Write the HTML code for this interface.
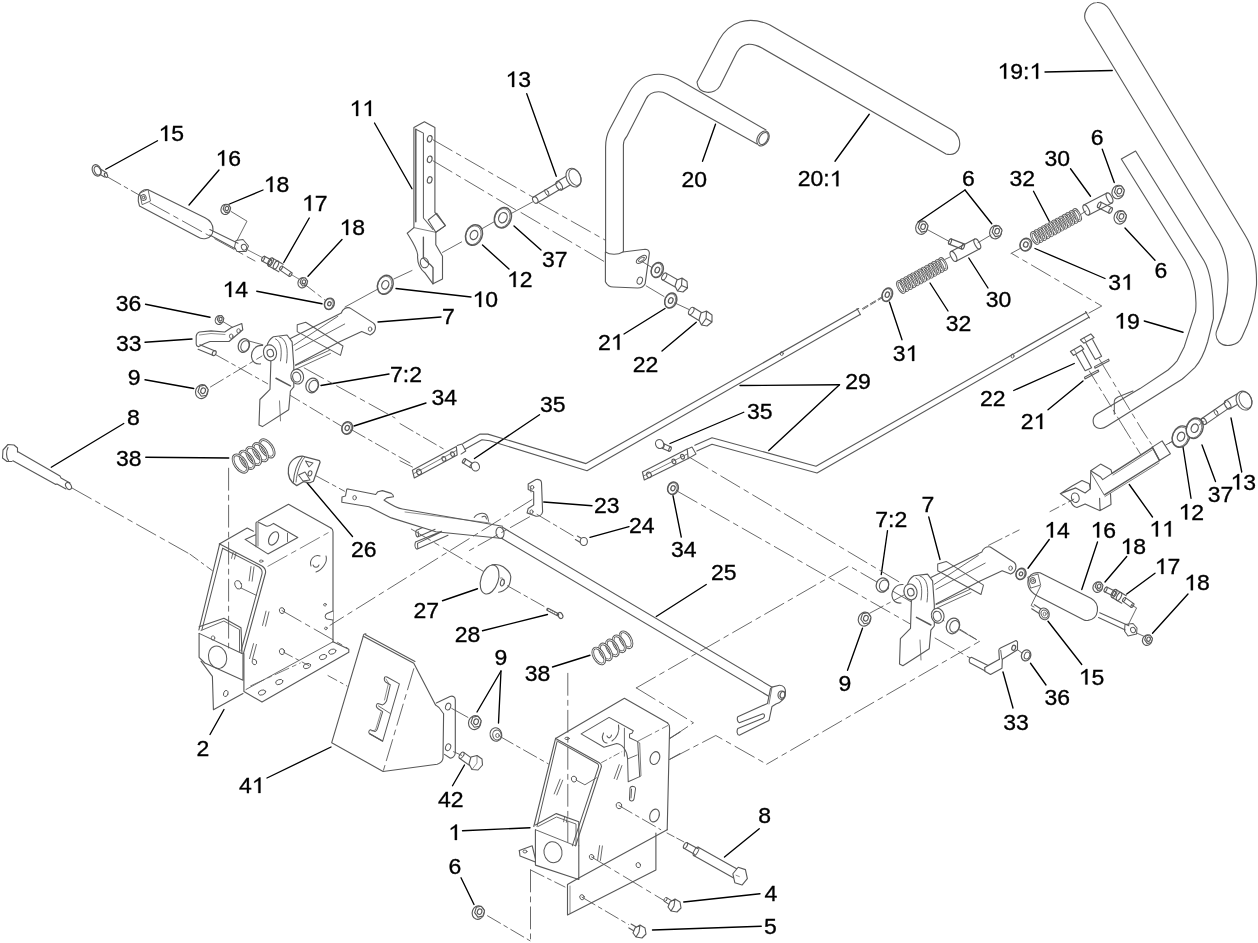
<!DOCTYPE html>
<html><head><meta charset="utf-8"><style>
html,body{margin:0;padding:0;background:#fff;width:1258px;height:943px;overflow:hidden}
svg{position:absolute;left:0;top:0;display:block;will-change:transform}
</style></head><body>
<svg width="1258" height="943" viewBox="0 0 1258 943">
<rect width="1258" height="943" fill="#fff"/>
<g font-family="&quot;Liberation Sans&quot;, sans-serif" font-size="23" fill="#000"><path stroke="#000" stroke-width="0.3" d="M165.05,141.00 L167.19,141.00 L167.19,125.52 L165.74,125.52 L164.70,126.84 L161.00,129.22 L161.00,130.95 L165.05,128.57Z"/><text transform="translate(171.28,141.00) scale(1,0.94)" stroke="#000" stroke-width="0.35">5</text><path stroke="#000" stroke-width="0.3" d="M222.05,165.75 L224.19,165.75 L224.19,150.27 L222.74,150.27 L221.70,151.59 L218.00,153.97 L218.00,155.70 L222.05,153.32Z"/><text transform="translate(228.28,165.75) scale(1,0.94)" stroke="#000" stroke-width="0.35">6</text><path stroke="#000" stroke-width="0.3" d="M270.30,192.00 L272.44,192.00 L272.44,176.52 L270.99,176.52 L269.95,177.84 L266.25,180.22 L266.25,181.95 L270.30,179.57Z"/><text transform="translate(276.53,192.00) scale(1,0.94)" stroke="#000" stroke-width="0.35">8</text><path stroke="#000" stroke-width="0.3" d="M308.55,210.75 L310.69,210.75 L310.69,195.27 L309.24,195.27 L308.20,196.59 L304.50,198.97 L304.50,200.70 L308.55,198.32Z"/><text transform="translate(314.78,210.75) scale(1,0.94)" stroke="#000" stroke-width="0.35">7</text><path stroke="#000" stroke-width="0.3" d="M346.05,235.00 L348.19,235.00 L348.19,219.52 L346.74,219.52 L345.70,220.84 L342.00,223.22 L342.00,224.95 L346.05,222.57Z"/><text transform="translate(352.28,235.00) scale(1,0.94)" stroke="#000" stroke-width="0.35">8</text><path stroke="#000" stroke-width="0.3" d="M229.05,297.00 L231.19,297.00 L231.19,281.52 L229.74,281.52 L228.70,282.84 L225.00,285.22 L225.00,286.95 L229.05,284.57Z"/><text transform="translate(235.28,297.00) scale(1,0.94)" stroke="#000" stroke-width="0.35">4</text><text transform="translate(115.75,311.00) scale(1,0.94)" stroke="#000" stroke-width="0.35">3</text><text transform="translate(128.54,311.00) scale(1,0.94)" stroke="#000" stroke-width="0.35">6</text><text transform="translate(116.00,351.00) scale(1,0.94)" stroke="#000" stroke-width="0.35">3</text><text transform="translate(128.79,351.00) scale(1,0.94)" stroke="#000" stroke-width="0.35">3</text><text transform="translate(127.75,385.25) scale(1,0.94)" stroke="#000" stroke-width="0.35">9</text><text transform="translate(127.00,424.75) scale(1,0.94)" stroke="#000" stroke-width="0.35">8</text><text transform="translate(116.00,465.50) scale(1,0.94)" stroke="#000" stroke-width="0.35">3</text><text transform="translate(128.79,465.50) scale(1,0.94)" stroke="#000" stroke-width="0.35">8</text><text transform="translate(196.50,756.00) scale(1,0.94)" stroke="#000" stroke-width="0.35">2</text><text transform="translate(239.00,793.00) scale(1,0.94)" stroke="#000" stroke-width="0.35">4</text><path stroke="#000" stroke-width="0.3" d="M258.34,793.00 L260.48,793.00 L260.48,777.52 L259.03,777.52 L258.00,778.84 L254.30,781.22 L254.30,782.95 L258.34,780.57Z"/><path stroke="#000" stroke-width="0.3" d="M356.05,116.00 L358.19,116.00 L358.19,100.52 L356.74,100.52 L355.70,101.84 L352.00,104.22 L352.00,105.95 L356.05,103.57Z"/><path stroke="#000" stroke-width="0.3" d="M368.84,116.00 L370.98,116.00 L370.98,100.52 L369.53,100.52 L368.49,101.84 L364.79,104.22 L364.79,105.95 L368.84,103.57Z"/><path stroke="#000" stroke-width="0.3" d="M512.05,87.00 L514.19,87.00 L514.19,71.52 L512.74,71.52 L511.70,72.84 L508.00,75.22 L508.00,76.95 L512.05,74.57Z"/><text transform="translate(518.28,87.00) scale(1,0.94)" stroke="#000" stroke-width="0.35">3</text><text transform="translate(542.00,266.75) scale(1,0.94)" stroke="#000" stroke-width="0.35">3</text><text transform="translate(554.79,266.75) scale(1,0.94)" stroke="#000" stroke-width="0.35">7</text><path stroke="#000" stroke-width="0.3" d="M513.55,287.00 L515.69,287.00 L515.69,271.52 L514.24,271.52 L513.20,272.84 L509.50,275.22 L509.50,276.95 L513.55,274.57Z"/><text transform="translate(519.78,287.00) scale(1,0.94)" stroke="#000" stroke-width="0.35">2</text><path stroke="#000" stroke-width="0.3" d="M479.05,307.00 L481.19,307.00 L481.19,291.52 L479.74,291.52 L478.70,292.84 L475.00,295.22 L475.00,296.95 L479.05,294.57Z"/><text transform="translate(485.28,307.00) scale(1,0.94)" stroke="#000" stroke-width="0.35">0</text><text transform="translate(442.00,324.00) scale(1,0.94)" stroke="#000" stroke-width="0.35">7</text><text transform="translate(390.00,381.50) scale(1,0.94)" stroke="#000" stroke-width="0.35">7</text><text transform="translate(402.79,381.50) scale(1,0.94)" stroke="#000" stroke-width="0.35">:</text><text transform="translate(409.18,381.50) scale(1,0.94)" stroke="#000" stroke-width="0.35">2</text><text transform="translate(431.50,405.00) scale(1,0.94)" stroke="#000" stroke-width="0.35">3</text><text transform="translate(444.29,405.00) scale(1,0.94)" stroke="#000" stroke-width="0.35">4</text><text transform="translate(540.00,412.00) scale(1,0.94)" stroke="#000" stroke-width="0.35">3</text><text transform="translate(552.79,412.00) scale(1,0.94)" stroke="#000" stroke-width="0.35">5</text><text transform="translate(351.00,557.00) scale(1,0.94)" stroke="#000" stroke-width="0.35">2</text><text transform="translate(363.79,557.00) scale(1,0.94)" stroke="#000" stroke-width="0.35">6</text><text transform="translate(594.00,512.75) scale(1,0.94)" stroke="#000" stroke-width="0.35">2</text><text transform="translate(606.79,512.75) scale(1,0.94)" stroke="#000" stroke-width="0.35">3</text><text transform="translate(413.50,617.50) scale(1,0.94)" stroke="#000" stroke-width="0.35">2</text><text transform="translate(426.29,617.50) scale(1,0.94)" stroke="#000" stroke-width="0.35">7</text><text transform="translate(454.75,641.50) scale(1,0.94)" stroke="#000" stroke-width="0.35">2</text><text transform="translate(467.54,641.50) scale(1,0.94)" stroke="#000" stroke-width="0.35">8</text><text transform="translate(494.50,664.50) scale(1,0.94)" stroke="#000" stroke-width="0.35">9</text><text transform="translate(524.75,680.75) scale(1,0.94)" stroke="#000" stroke-width="0.35">3</text><text transform="translate(537.54,680.75) scale(1,0.94)" stroke="#000" stroke-width="0.35">8</text><text transform="translate(438.00,807.00) scale(1,0.94)" stroke="#000" stroke-width="0.35">4</text><text transform="translate(450.79,807.00) scale(1,0.94)" stroke="#000" stroke-width="0.35">2</text><path stroke="#000" stroke-width="0.3" d="M454.80,840.00 L456.94,840.00 L456.94,824.52 L455.49,824.52 L454.45,825.84 L450.75,828.22 L450.75,829.95 L454.80,827.57Z"/><text transform="translate(448.50,874.00) scale(1,0.94)" stroke="#000" stroke-width="0.35">6</text><text transform="translate(681.50,187.00) scale(1,0.94)" stroke="#000" stroke-width="0.35">2</text><text transform="translate(694.29,187.00) scale(1,0.94)" stroke="#000" stroke-width="0.35">0</text><text transform="translate(797.75,186.25) scale(1,0.94)" stroke="#000" stroke-width="0.35">2</text><text transform="translate(810.54,186.25) scale(1,0.94)" stroke="#000" stroke-width="0.35">0</text><text transform="translate(823.33,186.25) scale(1,0.94)" stroke="#000" stroke-width="0.35">:</text><path stroke="#000" stroke-width="0.3" d="M836.27,186.25 L838.41,186.25 L838.41,170.77 L836.97,170.77 L835.93,172.09 L832.23,174.47 L832.23,176.20 L836.27,173.82Z"/><text transform="translate(632.75,372.25) scale(1,0.94)" stroke="#000" stroke-width="0.35">2</text><text transform="translate(645.54,372.25) scale(1,0.94)" stroke="#000" stroke-width="0.35">2</text><text transform="translate(598.00,349.75) scale(1,0.94)" stroke="#000" stroke-width="0.35">2</text><path stroke="#000" stroke-width="0.3" d="M617.34,349.75 L619.48,349.75 L619.48,334.27 L618.03,334.27 L617.00,335.59 L613.29,337.97 L613.29,339.70 L617.34,337.32Z"/><text transform="translate(892.75,361.00) scale(1,0.94)" stroke="#000" stroke-width="0.35">3</text><path stroke="#000" stroke-width="0.3" d="M912.09,361.00 L914.23,361.00 L914.23,345.52 L912.78,345.52 L911.75,346.84 L908.04,349.22 L908.04,350.95 L912.09,348.57Z"/><text transform="translate(845.25,388.50) scale(1,0.94)" stroke="#000" stroke-width="0.35">2</text><text transform="translate(858.04,388.50) scale(1,0.94)" stroke="#000" stroke-width="0.35">9</text><text transform="translate(747.00,418.50) scale(1,0.94)" stroke="#000" stroke-width="0.35">3</text><text transform="translate(759.79,418.50) scale(1,0.94)" stroke="#000" stroke-width="0.35">5</text><text transform="translate(629.00,533.25) scale(1,0.94)" stroke="#000" stroke-width="0.35">2</text><text transform="translate(641.79,533.25) scale(1,0.94)" stroke="#000" stroke-width="0.35">4</text><text transform="translate(671.00,556.50) scale(1,0.94)" stroke="#000" stroke-width="0.35">3</text><text transform="translate(683.79,556.50) scale(1,0.94)" stroke="#000" stroke-width="0.35">4</text><text transform="translate(711.00,580.25) scale(1,0.94)" stroke="#000" stroke-width="0.35">2</text><text transform="translate(723.79,580.25) scale(1,0.94)" stroke="#000" stroke-width="0.35">5</text><text transform="translate(875.25,527.00) scale(1,0.94)" stroke="#000" stroke-width="0.35">7</text><text transform="translate(888.04,527.00) scale(1,0.94)" stroke="#000" stroke-width="0.35">:</text><text transform="translate(894.43,527.00) scale(1,0.94)" stroke="#000" stroke-width="0.35">2</text><text transform="translate(921.50,512.00) scale(1,0.94)" stroke="#000" stroke-width="0.35">7</text><text transform="translate(838.50,690.75) scale(1,0.94)" stroke="#000" stroke-width="0.35">9</text><text transform="translate(758.25,823.25) scale(1,0.94)" stroke="#000" stroke-width="0.35">8</text><text transform="translate(764.50,900.75) scale(1,0.94)" stroke="#000" stroke-width="0.35">4</text><text transform="translate(764.00,934.00) scale(1,0.94)" stroke="#000" stroke-width="0.35">5</text><path stroke="#000" stroke-width="0.3" d="M1004.05,78.75 L1006.19,78.75 L1006.19,63.27 L1004.74,63.27 L1003.70,64.59 L1000.00,66.97 L1000.00,68.70 L1004.05,66.32Z"/><text transform="translate(1010.28,78.75) scale(1,0.94)" stroke="#000" stroke-width="0.35">9</text><text transform="translate(1023.07,78.75) scale(1,0.94)" stroke="#000" stroke-width="0.35">:</text><path stroke="#000" stroke-width="0.3" d="M1036.02,78.75 L1038.16,78.75 L1038.16,63.27 L1036.71,63.27 L1035.67,64.59 L1031.97,66.97 L1031.97,68.70 L1036.02,66.32Z"/><text transform="translate(1090.75,145.00) scale(1,0.94)" stroke="#000" stroke-width="0.35">6</text><text transform="translate(1044.50,166.25) scale(1,0.94)" stroke="#000" stroke-width="0.35">3</text><text transform="translate(1057.29,166.25) scale(1,0.94)" stroke="#000" stroke-width="0.35">0</text><text transform="translate(1009.50,186.25) scale(1,0.94)" stroke="#000" stroke-width="0.35">3</text><text transform="translate(1022.29,186.25) scale(1,0.94)" stroke="#000" stroke-width="0.35">2</text><text transform="translate(962.00,186.25) scale(1,0.94)" stroke="#000" stroke-width="0.35">6</text><text transform="translate(1154.50,278.00) scale(1,0.94)" stroke="#000" stroke-width="0.35">6</text><text transform="translate(1108.25,289.75) scale(1,0.94)" stroke="#000" stroke-width="0.35">3</text><path stroke="#000" stroke-width="0.3" d="M1127.59,289.75 L1129.73,289.75 L1129.73,274.27 L1128.28,274.27 L1127.25,275.59 L1123.55,277.97 L1123.55,279.70 L1127.59,277.32Z"/><text transform="translate(985.75,307.25) scale(1,0.94)" stroke="#000" stroke-width="0.35">3</text><text transform="translate(998.54,307.25) scale(1,0.94)" stroke="#000" stroke-width="0.35">0</text><text transform="translate(945.75,331.00) scale(1,0.94)" stroke="#000" stroke-width="0.35">3</text><text transform="translate(958.54,331.00) scale(1,0.94)" stroke="#000" stroke-width="0.35">2</text><path stroke="#000" stroke-width="0.3" d="M1120.80,328.50 L1122.94,328.50 L1122.94,313.02 L1121.49,313.02 L1120.45,314.34 L1116.75,316.72 L1116.75,318.45 L1120.80,316.07Z"/><text transform="translate(1127.03,328.50) scale(1,0.94)" stroke="#000" stroke-width="0.35">9</text><text transform="translate(980.00,406.00) scale(1,0.94)" stroke="#000" stroke-width="0.35">2</text><text transform="translate(992.79,406.00) scale(1,0.94)" stroke="#000" stroke-width="0.35">2</text><text transform="translate(1020.75,429.00) scale(1,0.94)" stroke="#000" stroke-width="0.35">2</text><path stroke="#000" stroke-width="0.3" d="M1040.09,429.00 L1042.23,429.00 L1042.23,413.52 L1040.78,413.52 L1039.75,414.84 L1036.05,417.22 L1036.05,418.95 L1040.09,416.57Z"/><path stroke="#000" stroke-width="0.3" d="M1237.05,489.50 L1239.19,489.50 L1239.19,474.02 L1237.74,474.02 L1236.70,475.34 L1233.00,477.72 L1233.00,479.45 L1237.05,477.07Z"/><text transform="translate(1243.28,489.50) scale(1,0.94)" stroke="#000" stroke-width="0.35">3</text><text transform="translate(1207.75,502.00) scale(1,0.94)" stroke="#000" stroke-width="0.35">3</text><text transform="translate(1220.54,502.00) scale(1,0.94)" stroke="#000" stroke-width="0.35">7</text><path stroke="#000" stroke-width="0.3" d="M1185.05,519.50 L1187.19,519.50 L1187.19,504.02 L1185.74,504.02 L1184.70,505.34 L1181.00,507.72 L1181.00,509.45 L1185.05,507.07Z"/><text transform="translate(1191.28,519.50) scale(1,0.94)" stroke="#000" stroke-width="0.35">2</text><path stroke="#000" stroke-width="0.3" d="M1155.80,536.50 L1157.94,536.50 L1157.94,521.02 L1156.49,521.02 L1155.45,522.34 L1151.75,524.72 L1151.75,526.45 L1155.80,524.07Z"/><path stroke="#000" stroke-width="0.3" d="M1168.59,536.50 L1170.72,536.50 L1170.72,521.02 L1169.28,521.02 L1168.24,522.34 L1164.54,524.72 L1164.54,526.45 L1168.59,524.07Z"/><path stroke="#000" stroke-width="0.3" d="M1050.80,537.50 L1052.94,537.50 L1052.94,522.02 L1051.49,522.02 L1050.45,523.34 L1046.75,525.72 L1046.75,527.45 L1050.80,525.07Z"/><text transform="translate(1057.03,537.50) scale(1,0.94)" stroke="#000" stroke-width="0.35">4</text><path stroke="#000" stroke-width="0.3" d="M1097.05,537.50 L1099.19,537.50 L1099.19,522.02 L1097.74,522.02 L1096.70,523.34 L1093.00,525.72 L1093.00,527.45 L1097.05,525.07Z"/><text transform="translate(1103.28,537.50) scale(1,0.94)" stroke="#000" stroke-width="0.35">6</text><path stroke="#000" stroke-width="0.3" d="M1127.05,554.00 L1129.19,554.00 L1129.19,538.52 L1127.74,538.52 L1126.70,539.84 L1123.00,542.22 L1123.00,543.95 L1127.05,541.57Z"/><text transform="translate(1133.28,554.00) scale(1,0.94)" stroke="#000" stroke-width="0.35">8</text><path stroke="#000" stroke-width="0.3" d="M1161.30,574.00 L1163.44,574.00 L1163.44,558.52 L1161.99,558.52 L1160.95,559.84 L1157.25,562.22 L1157.25,563.95 L1161.30,561.57Z"/><text transform="translate(1167.53,574.00) scale(1,0.94)" stroke="#000" stroke-width="0.35">7</text><path stroke="#000" stroke-width="0.3" d="M1190.80,590.25 L1192.94,590.25 L1192.94,574.77 L1191.49,574.77 L1190.45,576.09 L1186.75,578.47 L1186.75,580.20 L1190.80,577.82Z"/><text transform="translate(1197.03,590.25) scale(1,0.94)" stroke="#000" stroke-width="0.35">8</text><path stroke="#000" stroke-width="0.3" d="M1085.30,684.50 L1087.44,684.50 L1087.44,669.02 L1085.99,669.02 L1084.95,670.34 L1081.25,672.72 L1081.25,674.45 L1085.30,672.07Z"/><text transform="translate(1091.53,684.50) scale(1,0.94)" stroke="#000" stroke-width="0.35">5</text><text transform="translate(1044.50,704.50) scale(1,0.94)" stroke="#000" stroke-width="0.35">3</text><text transform="translate(1057.29,704.50) scale(1,0.94)" stroke="#000" stroke-width="0.35">6</text><text transform="translate(1003.25,729.50) scale(1,0.94)" stroke="#000" stroke-width="0.35">3</text><text transform="translate(1016.04,729.50) scale(1,0.94)" stroke="#000" stroke-width="0.35">3</text></g><g stroke="#000" stroke-width="1.35" fill="none" stroke-linecap="round"><line x1="157.5" y1="140.75" x2="105.75" y2="169.25"/><line x1="219" y1="170" x2="189" y2="205"/><line x1="263" y1="190" x2="229.5" y2="204"/><line x1="309.25" y1="218" x2="283.75" y2="262.5"/><line x1="342" y1="239.5" x2="308" y2="276.25"/><line x1="256.75" y1="291.25" x2="322" y2="303.75"/><line x1="145.5" y1="304.25" x2="210" y2="317.25"/><line x1="145" y1="342.25" x2="192" y2="339"/><line x1="145" y1="379.75" x2="193.75" y2="388.5"/><line x1="123.75" y1="423.5" x2="51.25" y2="467.25"/><line x1="145.75" y1="457.25" x2="228.75" y2="458"/><line x1="210" y1="734.5" x2="224" y2="709.5"/><line x1="267" y1="778" x2="331" y2="747"/><line x1="374.5" y1="123" x2="412" y2="188.75"/><line x1="526.75" y1="93.75" x2="556.25" y2="176.25"/><line x1="541" y1="250" x2="514" y2="226"/><line x1="482.5" y1="245" x2="509" y2="269"/><line x1="396" y1="288.5" x2="471" y2="297"/><line x1="378" y1="322" x2="441" y2="317"/><line x1="321" y1="385.5" x2="389" y2="374"/><line x1="354" y1="426" x2="426" y2="403"/><line x1="474.5" y1="458.5" x2="539.5" y2="414.75"/><line x1="303" y1="478" x2="352.5" y2="536.5"/><line x1="543.75" y1="502" x2="592" y2="505.75"/><line x1="442.5" y1="600.75" x2="477.5" y2="588.75"/><line x1="482.5" y1="630.75" x2="547.5" y2="614.5"/><line x1="501" y1="671" x2="477" y2="712"/><line x1="501" y1="671" x2="498.5" y2="723"/><line x1="552.5" y1="667" x2="590" y2="655.25"/><line x1="452.5" y1="785.75" x2="464.5" y2="765"/><line x1="462.5" y1="830.75" x2="530" y2="827.75"/><line x1="461" y1="877.75" x2="474" y2="904.5"/><line x1="702.5" y1="161.25" x2="715.5" y2="124.25"/><line x1="835" y1="161.25" x2="869.25" y2="114.25"/><line x1="662" y1="351" x2="696.25" y2="322.25"/><line x1="624" y1="334" x2="665" y2="308.5"/><line x1="902" y1="339.75" x2="889.5" y2="302.25"/><line x1="839.5" y1="384.75" x2="740" y2="385.5"/><line x1="839.5" y1="384.75" x2="768.75" y2="450.5"/><line x1="743.75" y1="412.25" x2="670" y2="443.5"/><line x1="590" y1="537.3" x2="629" y2="526.7"/><line x1="681.25" y1="537" x2="673" y2="495.75"/><line x1="706.25" y1="584.5" x2="656.25" y2="616.5"/><line x1="887.5" y1="530.75" x2="881.25" y2="574.5"/><line x1="928.75" y1="517" x2="940" y2="559.5"/><line x1="847.5" y1="670.25" x2="862.5" y2="628.25"/><line x1="759.25" y1="828.75" x2="724.5" y2="857"/><line x1="760" y1="893.75" x2="683.75" y2="902"/><line x1="761.25" y1="926.25" x2="652.5" y2="930"/><line x1="1045" y1="72" x2="1112.25" y2="70.5"/><line x1="1102.25" y1="149.25" x2="1114.25" y2="182.5"/><line x1="1070.5" y1="168.75" x2="1090.5" y2="196.25"/><line x1="1033.5" y1="191.25" x2="1049.25" y2="221.25"/><line x1="965" y1="190" x2="918" y2="222"/><line x1="965" y1="190" x2="991.75" y2="223.75"/><line x1="1155" y1="260.25" x2="1125" y2="228"/><line x1="1105" y1="278.5" x2="1035" y2="248.5"/><line x1="988" y1="288" x2="968.75" y2="258"/><line x1="948" y1="311" x2="930" y2="283"/><line x1="1144.25" y1="321" x2="1183" y2="332.25"/><line x1="1013.75" y1="390.5" x2="1074.25" y2="363.5"/><line x1="1048" y1="409.75" x2="1083" y2="381"/><line x1="1241.75" y1="472" x2="1231" y2="418"/><line x1="1215.5" y1="481.5" x2="1202" y2="445"/><line x1="1191" y1="498.25" x2="1183" y2="447"/><line x1="1152.5" y1="517" x2="1129.25" y2="484.5"/><line x1="1049.25" y1="539.5" x2="1028" y2="568.25"/><line x1="1097.5" y1="542" x2="1081.75" y2="589.5"/><line x1="1126.75" y1="556.5" x2="1105" y2="582"/><line x1="1155" y1="573.25" x2="1126.75" y2="594"/><line x1="1188" y1="594" x2="1152.5" y2="633.25"/><line x1="1081.75" y1="664.5" x2="1048" y2="621.25"/><line x1="1046" y1="685" x2="1030.5" y2="663.25"/><line x1="1013" y1="708" x2="1003" y2="672"/></g><g stroke-linecap="round" stroke-linejoin="round"><path d="M697,82 L719,40 C729,22 748,15 770,25 L952,130 C964,137 962,158 946,154 L762,48 C753,43 743,42 737,52 L720,86 C715,95 698,95 697,82Z" stroke="#585858" stroke-width="1.12" fill="none" /><path d="M605.6,252 L605.6,147 C605.6,140 607,134 609.8,128.9 L628.9,92.9 C636,80 646,74.3 658.6,74.3 C665,74.3 671,76 677.7,79.1 L766,130" stroke="#585858" stroke-width="1.12" fill="none" /><path d="M623.4,252 L623.4,144.8 C623.4,141 624.5,139 626.8,136.4 L645.9,99.2 C648,95 652,91.8 658.6,91.8 C662,91.8 665,92.8 667.1,93.9 L757,144" stroke="#585858" stroke-width="1.12" fill="none" /><ellipse cx="763" cy="138.5" rx="5.5" ry="8" transform="rotate(30 763 138.5)" stroke="#585858" stroke-width="1.12" fill="none"/><ellipse cx="763.5" cy="138.5" rx="4" ry="6.5" transform="rotate(30 763.5 138.5)" stroke="#585858" stroke-width="1.12" fill="none"/><path d="M1086,21.5 C1082,14 1088,3 1097,2.5 C1103,2 1107,6 1109.5,9.5 L1245,235 C1253,248 1257,262 1256.5,285 C1255,305 1248,325 1242,337 C1238,346 1225,348 1219,342 C1215,337 1216,332 1217,330 C1223,315 1228,300 1228,280 C1228,263 1224,250 1219,241 Z" stroke="#585858" stroke-width="1.12" fill="none" /><path d="M1121.3,159 L1135.6,151 L1204,260.8 C1210,271 1213.5,290 1213.4,318.7 L1207.6,342 C1204,354 1199,363 1194.8,367.6 C1190,372 1186,376 1182,379.3 L1107.3,426 C1100,431 1092,428 1093.3,419 C1094,415 1097,413.5 1100.3,412 L1140,388.6 L1168,370 C1172,366.5 1175,363.5 1177.3,360.6 L1184.3,346.7 L1195.6,311.7 C1197,295 1195,278 1185,261 Z" stroke="#585858" stroke-width="1.12" fill="none" /><path d="M1114.3,414.3 L1114.3,401 C1114.5,399 1116,398 1118,397 L1133,391" stroke="#585858" stroke-width="1.008" fill="none" /><ellipse cx="921.7" cy="227.6" rx="5.95" ry="6.859999999999999" transform="rotate(20 921.7 227.6)" stroke="#585858" stroke-width="1.12" fill="#fff"/><path d="M921.38,232.09 L918.14,227.7 L919.86,222.3 L924.82,221.31 L928.06,225.7 L926.34,231.1Z" stroke="#585858" stroke-width="1.12" fill="#fff"/><ellipse cx="923.1" cy="226.7" rx="2.24" ry="2.8000000000000003" transform="rotate(20 923.1 226.7)" stroke="#585858" stroke-width="1.12" fill="none"/><ellipse cx="995.7" cy="232.1" rx="5.95" ry="6.859999999999999" transform="rotate(20 995.7 232.1)" stroke="#585858" stroke-width="1.12" fill="#fff"/><path d="M995.38,236.59 L992.14,232.2 L993.86,226.8 L998.82,225.81 L1002.06,230.2 L1000.34,235.6Z" stroke="#585858" stroke-width="1.12" fill="#fff"/><ellipse cx="997.1" cy="231.2" rx="2.24" ry="2.8000000000000003" transform="rotate(20 997.1 231.2)" stroke="#585858" stroke-width="1.12" fill="none"/><path d="M956.0573883345877,261.269267389055 L979.8573883345877,248.76926738905502" stroke="#585858" stroke-width="1.12" fill="none"/><path d="M950.9426116654123,251.53073261094497 L974.7426116654123,239.030732610945" stroke="#585858" stroke-width="1.12" fill="none"/><ellipse cx="953.5" cy="256.4" rx="2.475" ry="5.5" transform="rotate(-27.708908094838876 953.5 256.4)" stroke="#585858" stroke-width="1.12" fill="none"/><ellipse cx="977.3" cy="243.9" rx="2.475" ry="5.5" transform="rotate(-27.708908094838876 977.3 243.9)" stroke="#585858" stroke-width="1.12" fill="none"/><path d="M948.9948585779351,244.11336769736857 L961.9948585779351,249.11336769736857" stroke="#585858" stroke-width="1.12" fill="none"/><path d="M951.0051414220649,238.88663230263143 L964.0051414220649,243.88663230263143" stroke="#585858" stroke-width="1.12" fill="none"/><ellipse cx="950" cy="241.5" rx="1.26" ry="2.8" transform="rotate(21.037511025421818 950 241.5)" stroke="#585858" stroke-width="1.12" fill="none"/><ellipse cx="963" cy="246.5" rx="1.26" ry="2.8" transform="rotate(21.037511025421818 963 246.5)" stroke="#585858" stroke-width="1.12" fill="none"/><path d="M928.4,230.2 L949.3,241.5" stroke="#585858" stroke-width="0.896" fill="none"/><path d="M978,242.7 L991,235" stroke="#585858" stroke-width="0.896" fill="none"/><path d="M945,259.4 L950,257" stroke="#585858" stroke-width="0.896" fill="none"/><ellipse cx="943.0" cy="264.0" rx="6.2" ry="2.6" transform="rotate(62 943.0 264.0)" stroke="#585858" stroke-width="2.33" fill="none"/><ellipse cx="943.0" cy="264.0" rx="6.2" ry="2.6" transform="rotate(62 943.0 264.0)" stroke="#fff" stroke-width="0.7200000000000001" fill="none"/><ellipse cx="939.5" cy="265.92" rx="6.2" ry="2.6" transform="rotate(62 939.5 265.92)" stroke="#585858" stroke-width="2.33" fill="none"/><ellipse cx="939.5" cy="265.92" rx="6.2" ry="2.6" transform="rotate(62 939.5 265.92)" stroke="#fff" stroke-width="0.7200000000000001" fill="none"/><ellipse cx="936.0" cy="267.83" rx="6.2" ry="2.6" transform="rotate(62 936.0 267.83)" stroke="#585858" stroke-width="2.33" fill="none"/><ellipse cx="936.0" cy="267.83" rx="6.2" ry="2.6" transform="rotate(62 936.0 267.83)" stroke="#fff" stroke-width="0.7200000000000001" fill="none"/><ellipse cx="932.5" cy="269.75" rx="6.2" ry="2.6" transform="rotate(62 932.5 269.75)" stroke="#585858" stroke-width="2.33" fill="none"/><ellipse cx="932.5" cy="269.75" rx="6.2" ry="2.6" transform="rotate(62 932.5 269.75)" stroke="#fff" stroke-width="0.7200000000000001" fill="none"/><ellipse cx="929.0" cy="271.67" rx="6.2" ry="2.6" transform="rotate(62 929.0 271.67)" stroke="#585858" stroke-width="2.33" fill="none"/><ellipse cx="929.0" cy="271.67" rx="6.2" ry="2.6" transform="rotate(62 929.0 271.67)" stroke="#fff" stroke-width="0.7200000000000001" fill="none"/><ellipse cx="925.5" cy="273.58" rx="6.2" ry="2.6" transform="rotate(62 925.5 273.58)" stroke="#585858" stroke-width="2.33" fill="none"/><ellipse cx="925.5" cy="273.58" rx="6.2" ry="2.6" transform="rotate(62 925.5 273.58)" stroke="#fff" stroke-width="0.7200000000000001" fill="none"/><ellipse cx="922.0" cy="275.5" rx="6.2" ry="2.6" transform="rotate(62 922.0 275.5)" stroke="#585858" stroke-width="2.33" fill="none"/><ellipse cx="922.0" cy="275.5" rx="6.2" ry="2.6" transform="rotate(62 922.0 275.5)" stroke="#fff" stroke-width="0.7200000000000001" fill="none"/><ellipse cx="918.5" cy="277.42" rx="6.2" ry="2.6" transform="rotate(62 918.5 277.42)" stroke="#585858" stroke-width="2.33" fill="none"/><ellipse cx="918.5" cy="277.42" rx="6.2" ry="2.6" transform="rotate(62 918.5 277.42)" stroke="#fff" stroke-width="0.7200000000000001" fill="none"/><ellipse cx="915.0" cy="279.33" rx="6.2" ry="2.6" transform="rotate(62 915.0 279.33)" stroke="#585858" stroke-width="2.33" fill="none"/><ellipse cx="915.0" cy="279.33" rx="6.2" ry="2.6" transform="rotate(62 915.0 279.33)" stroke="#fff" stroke-width="0.7200000000000001" fill="none"/><ellipse cx="911.5" cy="281.25" rx="6.2" ry="2.6" transform="rotate(62 911.5 281.25)" stroke="#585858" stroke-width="2.33" fill="none"/><ellipse cx="911.5" cy="281.25" rx="6.2" ry="2.6" transform="rotate(62 911.5 281.25)" stroke="#fff" stroke-width="0.7200000000000001" fill="none"/><ellipse cx="908.0" cy="283.17" rx="6.2" ry="2.6" transform="rotate(62 908.0 283.17)" stroke="#585858" stroke-width="2.33" fill="none"/><ellipse cx="908.0" cy="283.17" rx="6.2" ry="2.6" transform="rotate(62 908.0 283.17)" stroke="#fff" stroke-width="0.7200000000000001" fill="none"/><ellipse cx="904.5" cy="285.08" rx="6.2" ry="2.6" transform="rotate(62 904.5 285.08)" stroke="#585858" stroke-width="2.33" fill="none"/><ellipse cx="904.5" cy="285.08" rx="6.2" ry="2.6" transform="rotate(62 904.5 285.08)" stroke="#fff" stroke-width="0.7200000000000001" fill="none"/><ellipse cx="901.0" cy="287.0" rx="6.2" ry="2.6" transform="rotate(62 901.0 287.0)" stroke="#585858" stroke-width="2.33" fill="none"/><ellipse cx="901.0" cy="287.0" rx="6.2" ry="2.6" transform="rotate(62 901.0 287.0)" stroke="#fff" stroke-width="0.7200000000000001" fill="none"/><ellipse cx="887.3" cy="294.7" rx="5" ry="7" transform="rotate(22 887.3 294.7)" stroke="#585858" stroke-width="1.456" fill="#fff"/><ellipse cx="886.6999999999999" cy="295.0" rx="4.5" ry="6.44" transform="rotate(22 886.6999999999999 295.0)" stroke="#585858" stroke-width="0.672" fill="none"/><ellipse cx="887.3" cy="294.7" rx="2.0" ry="2.8000000000000003" transform="rotate(22 887.3 294.7)" stroke="#585858" stroke-width="1.232" fill="none"/><path d="M863,309.4 L883,297.3" stroke="#585858" stroke-width="0.896" fill="none" stroke-dasharray="6 3"/><ellipse cx="1025.8" cy="244.6" rx="5.7" ry="6.5" transform="rotate(22 1025.8 244.6)" stroke="#585858" stroke-width="1.456" fill="#fff"/><ellipse cx="1025.2" cy="244.9" rx="5.13" ry="5.98" transform="rotate(22 1025.2 244.9)" stroke="#585858" stroke-width="0.672" fill="none"/><ellipse cx="1025.8" cy="244.6" rx="2.2800000000000002" ry="2.6" transform="rotate(22 1025.8 244.6)" stroke="#585858" stroke-width="1.232" fill="none"/><ellipse cx="1077.0" cy="215.0" rx="6.2" ry="2.6" transform="rotate(62 1077.0 215.0)" stroke="#585858" stroke-width="2.33" fill="none"/><ellipse cx="1077.0" cy="215.0" rx="6.2" ry="2.6" transform="rotate(62 1077.0 215.0)" stroke="#fff" stroke-width="0.7200000000000001" fill="none"/><ellipse cx="1073.5" cy="216.92" rx="6.2" ry="2.6" transform="rotate(62 1073.5 216.92)" stroke="#585858" stroke-width="2.33" fill="none"/><ellipse cx="1073.5" cy="216.92" rx="6.2" ry="2.6" transform="rotate(62 1073.5 216.92)" stroke="#fff" stroke-width="0.7200000000000001" fill="none"/><ellipse cx="1070.0" cy="218.83" rx="6.2" ry="2.6" transform="rotate(62 1070.0 218.83)" stroke="#585858" stroke-width="2.33" fill="none"/><ellipse cx="1070.0" cy="218.83" rx="6.2" ry="2.6" transform="rotate(62 1070.0 218.83)" stroke="#fff" stroke-width="0.7200000000000001" fill="none"/><ellipse cx="1066.5" cy="220.75" rx="6.2" ry="2.6" transform="rotate(62 1066.5 220.75)" stroke="#585858" stroke-width="2.33" fill="none"/><ellipse cx="1066.5" cy="220.75" rx="6.2" ry="2.6" transform="rotate(62 1066.5 220.75)" stroke="#fff" stroke-width="0.7200000000000001" fill="none"/><ellipse cx="1063.0" cy="222.67" rx="6.2" ry="2.6" transform="rotate(62 1063.0 222.67)" stroke="#585858" stroke-width="2.33" fill="none"/><ellipse cx="1063.0" cy="222.67" rx="6.2" ry="2.6" transform="rotate(62 1063.0 222.67)" stroke="#fff" stroke-width="0.7200000000000001" fill="none"/><ellipse cx="1059.5" cy="224.58" rx="6.2" ry="2.6" transform="rotate(62 1059.5 224.58)" stroke="#585858" stroke-width="2.33" fill="none"/><ellipse cx="1059.5" cy="224.58" rx="6.2" ry="2.6" transform="rotate(62 1059.5 224.58)" stroke="#fff" stroke-width="0.7200000000000001" fill="none"/><ellipse cx="1056.0" cy="226.5" rx="6.2" ry="2.6" transform="rotate(62 1056.0 226.5)" stroke="#585858" stroke-width="2.33" fill="none"/><ellipse cx="1056.0" cy="226.5" rx="6.2" ry="2.6" transform="rotate(62 1056.0 226.5)" stroke="#fff" stroke-width="0.7200000000000001" fill="none"/><ellipse cx="1052.5" cy="228.42" rx="6.2" ry="2.6" transform="rotate(62 1052.5 228.42)" stroke="#585858" stroke-width="2.33" fill="none"/><ellipse cx="1052.5" cy="228.42" rx="6.2" ry="2.6" transform="rotate(62 1052.5 228.42)" stroke="#fff" stroke-width="0.7200000000000001" fill="none"/><ellipse cx="1049.0" cy="230.33" rx="6.2" ry="2.6" transform="rotate(62 1049.0 230.33)" stroke="#585858" stroke-width="2.33" fill="none"/><ellipse cx="1049.0" cy="230.33" rx="6.2" ry="2.6" transform="rotate(62 1049.0 230.33)" stroke="#fff" stroke-width="0.7200000000000001" fill="none"/><ellipse cx="1045.5" cy="232.25" rx="6.2" ry="2.6" transform="rotate(62 1045.5 232.25)" stroke="#585858" stroke-width="2.33" fill="none"/><ellipse cx="1045.5" cy="232.25" rx="6.2" ry="2.6" transform="rotate(62 1045.5 232.25)" stroke="#fff" stroke-width="0.7200000000000001" fill="none"/><ellipse cx="1042.0" cy="234.17" rx="6.2" ry="2.6" transform="rotate(62 1042.0 234.17)" stroke="#585858" stroke-width="2.33" fill="none"/><ellipse cx="1042.0" cy="234.17" rx="6.2" ry="2.6" transform="rotate(62 1042.0 234.17)" stroke="#fff" stroke-width="0.7200000000000001" fill="none"/><ellipse cx="1038.5" cy="236.08" rx="6.2" ry="2.6" transform="rotate(62 1038.5 236.08)" stroke="#585858" stroke-width="2.33" fill="none"/><ellipse cx="1038.5" cy="236.08" rx="6.2" ry="2.6" transform="rotate(62 1038.5 236.08)" stroke="#fff" stroke-width="0.7200000000000001" fill="none"/><ellipse cx="1035.0" cy="238.0" rx="6.2" ry="2.6" transform="rotate(62 1035.0 238.0)" stroke="#585858" stroke-width="2.33" fill="none"/><ellipse cx="1035.0" cy="238.0" rx="6.2" ry="2.6" transform="rotate(62 1035.0 238.0)" stroke="#fff" stroke-width="0.7200000000000001" fill="none"/><path d="M1088.8268260538057,214.88519703735773 L1112.0268260538057,202.88519703735773" stroke="#585858" stroke-width="1.12" fill="none"/><path d="M1083.7731739461942,205.11480296264227 L1106.9731739461943,193.11480296264227" stroke="#585858" stroke-width="1.12" fill="none"/><ellipse cx="1086.3" cy="210" rx="2.475" ry="5.5" transform="rotate(-27.34987578006983 1086.3 210)" stroke="#585858" stroke-width="1.12" fill="none"/><ellipse cx="1109.5" cy="198" rx="2.475" ry="5.5" transform="rotate(-27.34987578006983 1109.5 198)" stroke="#585858" stroke-width="1.12" fill="none"/><path d="M1097.8583592135,207.48328157299974 L1109.2583592135,213.18328157299973" stroke="#585858" stroke-width="1.12" fill="none"/><path d="M1100.5416407865,202.11671842700028 L1111.9416407864999,207.81671842700027" stroke="#585858" stroke-width="1.12" fill="none"/><ellipse cx="1099.2" cy="204.8" rx="1.35" ry="3" transform="rotate(26.565051177078217 1099.2 204.8)" stroke="#585858" stroke-width="1.12" fill="none"/><ellipse cx="1110.6" cy="210.5" rx="1.35" ry="3" transform="rotate(26.565051177078217 1110.6 210.5)" stroke="#585858" stroke-width="1.12" fill="none"/><ellipse cx="1118.0" cy="192.0" rx="5.95" ry="6.859999999999999" transform="rotate(20 1118.0 192.0)" stroke="#585858" stroke-width="1.12" fill="#fff"/><path d="M1117.68,196.49 L1114.44,192.1 L1116.16,186.7 L1121.12,185.71 L1124.36,190.1 L1122.64,195.5Z" stroke="#585858" stroke-width="1.12" fill="#fff"/><ellipse cx="1119.3999999999999" cy="191.1" rx="2.24" ry="2.8000000000000003" transform="rotate(20 1119.3999999999999 191.1)" stroke="#585858" stroke-width="1.12" fill="none"/><ellipse cx="1120.1000000000001" cy="217.29999999999998" rx="5.95" ry="6.859999999999999" transform="rotate(20 1120.1000000000001 217.29999999999998)" stroke="#585858" stroke-width="1.12" fill="#fff"/><path d="M1119.78,221.79 L1116.54,217.4 L1118.26,212.0 L1123.22,211.01 L1126.46,215.4 L1124.74,220.8Z" stroke="#585858" stroke-width="1.12" fill="#fff"/><ellipse cx="1121.5" cy="216.39999999999998" rx="2.24" ry="2.8000000000000003" transform="rotate(20 1121.5 216.39999999999998)" stroke="#585858" stroke-width="1.12" fill="none"/><path d="M1080,215 L1086,211" stroke="#585858" stroke-width="0.896" fill="none"/><path d="M463,443.6 L480.1,434.1 L487.8,434.1 L586,463.6 L858.7,308.5" stroke="#585858" stroke-width="1.12" fill="none"/><path d="M464.9,449.3 L482,439.8 L489.7,440.8 L587,470.7 L860.1,314.5" stroke="#585858" stroke-width="1.12" fill="none"/><path d="M857,308.5 L860.5,314.8" stroke="#585858" stroke-width="1.008" fill="none"/><path d="M457.2,445.5 L462,444 L465.8,451 L461,454.1" stroke="#585858" stroke-width="1.008" fill="none"/><path d="M412.4,470.3 L456.3,446.5 L457.2,455 L414.3,478 L412.4,470.3" stroke="#585858" stroke-width="1.12" fill="none"/><path d="M414,473.5 L456.8,450.2" stroke="#585858" stroke-width="0.784" fill="none"/><ellipse cx="419" cy="472" rx="2.3" ry="2.8" transform="rotate(-25 419 472)" stroke="#585858" stroke-width="1.12" fill="none"/><ellipse cx="443.9" cy="458.9" rx="1.8" ry="2.4" transform="rotate(-25 443.9 458.9)" stroke="#585858" stroke-width="1.12" fill="none"/><ellipse cx="452.5" cy="454.1" rx="1.8" ry="2.4" transform="rotate(-25 452.5 454.1)" stroke="#585858" stroke-width="1.12" fill="none"/><path d="M462.6184168206688,462.82917336727434 L470.21841682066884,467.62917336727435" stroke="#585858" stroke-width="1.12" fill="none"/><path d="M465.18158317933114,458.7708266327257 L472.78158317933116,463.5708266327257" stroke="#585858" stroke-width="1.12" fill="none"/><ellipse cx="463.9" cy="460.8" rx="1.08" ry="2.4" transform="rotate(32.27564431457762 463.9 460.8)" stroke="#585858" stroke-width="1.12" fill="none"/><ellipse cx="471.5" cy="465.6" rx="1.08" ry="2.4" transform="rotate(32.27564431457762 471.5 465.6)" stroke="#585858" stroke-width="1.12" fill="none"/><ellipse cx="475.4" cy="466.5" rx="4" ry="4.6" transform="rotate(-20 475.4 466.5)" stroke="#585858" stroke-width="1.12" fill="#fff"/><path d="M400,423.6 L445.8,450.3" stroke="#585858" stroke-width="0.896" fill="none" stroke-dasharray="15 4 4 4"/><path d="M400,460.8 L413.4,467.5" stroke="#585858" stroke-width="0.896" fill="none" stroke-dasharray="14 4 3 4"/><path d="M694.9,445.3 L712,437.7 L816,466.3 L1086.75,312.25" stroke="#585858" stroke-width="1.12" fill="none"/><path d="M696.8,451 L712,444.3 L817,473 L1089,317.25" stroke="#585858" stroke-width="1.12" fill="none"/><path d="M1085.5,311.5 L1089.5,318" stroke="#585858" stroke-width="1.008" fill="none"/><path d="M687.2,449.1 L692,447 L696,454 L688.2,458.6" stroke="#585858" stroke-width="1.008" fill="none"/><path d="M642.4,472 L687.2,449.1 L688.2,458.6 L644.3,480 L642.4,472" stroke="#585858" stroke-width="1.12" fill="none"/><path d="M643.5,476 L687.7,453.8" stroke="#585858" stroke-width="0.784" fill="none"/><ellipse cx="649" cy="474.9" rx="2.3" ry="2.8" transform="rotate(-25 649 474.9)" stroke="#585858" stroke-width="1.12" fill="none"/><ellipse cx="673.9" cy="461.5" rx="1.8" ry="2.4" transform="rotate(-25 673.9 461.5)" stroke="#585858" stroke-width="1.12" fill="none"/><ellipse cx="682.5" cy="456.7" rx="1.8" ry="2.4" transform="rotate(-25 682.5 456.7)" stroke="#585858" stroke-width="1.12" fill="none"/><path d="M662.0281772201471,448.19443853515173 L669.0281772201471,451.29443853515176" stroke="#585858" stroke-width="1.12" fill="none"/><path d="M663.9718227798529,443.80556146484827 L670.9718227798529,446.9055614648483" stroke="#585858" stroke-width="1.12" fill="none"/><ellipse cx="663" cy="446" rx="1.08" ry="2.4" transform="rotate(23.8864999216349 663 446)" stroke="#585858" stroke-width="1.12" fill="none"/><ellipse cx="670" cy="449.1" rx="1.08" ry="2.4" transform="rotate(23.8864999216349 670 449.1)" stroke="#585858" stroke-width="1.12" fill="none"/><ellipse cx="659.6" cy="444" rx="4" ry="4.6" transform="rotate(-20 659.6 444)" stroke="#585858" stroke-width="1.12" fill="#fff"/><ellipse cx="781.75" cy="353.5" rx="1.5" ry="2" transform="rotate(0 781.75 353.5)" stroke="#585858" stroke-width="0.896" fill="none"/><ellipse cx="1012.5" cy="356" rx="1.5" ry="2" transform="rotate(0 1012.5 356)" stroke="#585858" stroke-width="0.896" fill="none"/><path d="M862.5,308.5 L881.25,297.25" stroke="#585858" stroke-width="0.896" fill="none" stroke-dasharray="6 3"/><path d="M1089,313 L1101.75,306 L1011.75,253.5" stroke="#585858" stroke-width="0.896" fill="none" stroke-dasharray="22 5 5 5"/><path d="M1011,253.5 L1021,248" stroke="#585858" stroke-width="0.896" fill="none"/><path d="M97.57401618113332,172.96324106101954 L104.47401618113332,177.06324106101954" stroke="#585858" stroke-width="1.12" fill="none"/><path d="M100.02598381886668,168.83675893898047 L106.92598381886668,172.93675893898046" stroke="#585858" stroke-width="1.12" fill="none"/><ellipse cx="96.7" cy="170.4" rx="4.2" ry="6" transform="rotate(-25 96.7 170.4)" stroke="#585858" stroke-width="1.12" fill="#fff"/><ellipse cx="97.5" cy="170.6" rx="3" ry="4.6" transform="rotate(-25 97.5 170.6)" stroke="#585858" stroke-width="1.12" fill="none"/><ellipse cx="106" cy="175.2" rx="1.4" ry="2.3" transform="rotate(-25 106 175.2)" stroke="#585858" stroke-width="1.12" fill="none"/><path d="M107.7,177.1 L140,195.5" stroke="#585858" stroke-width="0.896" fill="none" stroke-dasharray="15 4 4 4"/><path d="M147.7,189.5 L205,217.7 C216,223 215,237 206,238.5 C203,239 200,238.5 198,237 L139.5,206 C137,200 138,193 142.9,190.5 C144.5,189.5 146,189.3 147.7,189.5Z" stroke="#585858" stroke-width="1.12" fill="none" /><path d="M140,193 L148,189.5 L150.5,201 L142.5,204.5Z" stroke="#585858" stroke-width="0.896" fill="none"/><ellipse cx="143.5" cy="197.5" rx="2.6" ry="3" transform="rotate(-25 143.5 197.5)" stroke="#585858" stroke-width="0.896" fill="none"/><ellipse cx="143.5" cy="197.5" rx="1.2" ry="1.5" transform="rotate(-25 143.5 197.5)" stroke="#585858" stroke-width="0.784" fill="none"/><path d="M150,203 L255,261" stroke="#585858" stroke-width="0.896" fill="none" stroke-dasharray="22 5 5 5"/><path d="M209.8,229.5 L238,243.2" stroke="#585858" stroke-width="1.008" fill="none"/><path d="M209.8,235 L235.3,248.8" stroke="#585858" stroke-width="1.008" fill="none"/><path d="M236,240.5 L243,239.5 L248.5,246 L246,251.5 L237,251.5 L234.5,247Z" stroke="#585858" stroke-width="1.008" fill="none"/><ellipse cx="244" cy="247.2" rx="2.6" ry="3" transform="rotate(-25 244 247.2)" stroke="#585858" stroke-width="0.896" fill="none"/><path d="M231.1,211.5 L247,221.2 L237.4,239.8" stroke="#585858" stroke-width="0.896" fill="none"/><ellipse cx="225.5" cy="209.4" rx="4.505" ry="5.194" transform="rotate(20 225.5 209.4)" stroke="#585858" stroke-width="1.12" fill="#fff"/><path d="M225.59,212.58 L223.14,209.25 L224.45,205.17 L228.21,204.42 L230.66,207.75 L229.35,211.83Z" stroke="#585858" stroke-width="1.12" fill="#fff"/><ellipse cx="226.9" cy="208.5" rx="1.696" ry="2.12" transform="rotate(20 226.9 208.5)" stroke="#585858" stroke-width="1.12" fill="none"/><path d="M261.959561156449,260.88501892233086 L268.959561156449,264.6850189223308" stroke="#585858" stroke-width="1.12" fill="none"/><path d="M264.44043884355096,256.3149810776692 L271.44043884355096,260.11498107766914" stroke="#585858" stroke-width="1.12" fill="none"/><ellipse cx="263.2" cy="258.6" rx="1.1700000000000002" ry="2.6" transform="rotate(28.495638618244694 263.2 258.6)" stroke="#585858" stroke-width="1.12" fill="none"/><ellipse cx="270.2" cy="262.4" rx="1.1700000000000002" ry="2.6" transform="rotate(28.495638618244694 270.2 262.4)" stroke="#585858" stroke-width="1.12" fill="none"/><path d="M268.3169886712299,265.8202698253476 L278.8169886712299,271.8202698253476" stroke="#585858" stroke-width="1.12" fill="none"/><path d="M272.6830113287701,258.1797301746524 L283.1830113287701,264.1797301746524" stroke="#585858" stroke-width="1.12" fill="none"/><ellipse cx="270.5" cy="262" rx="2.2" ry="4.4" transform="rotate(28 270.5 262)" stroke="#585858" stroke-width="1.12" fill="none"/><ellipse cx="276" cy="265" rx="2" ry="4.4" transform="rotate(28 276 265)" stroke="#585858" stroke-width="1.12" fill="none"/><path d="M279.70122699413844,269.8982067008746 L289.20122699413844,276.3982067008746" stroke="#585858" stroke-width="1.12" fill="none"/><path d="M282.29877300586156,266.1017932991254 L291.79877300586156,272.6017932991254" stroke="#585858" stroke-width="1.12" fill="none"/><ellipse cx="281" cy="268" rx="1.035" ry="2.3" transform="rotate(34.38034472384487 281 268)" stroke="#585858" stroke-width="1.12" fill="none"/><ellipse cx="290.5" cy="274.5" rx="1.035" ry="2.3" transform="rotate(34.38034472384487 290.5 274.5)" stroke="#585858" stroke-width="1.12" fill="none"/><path d="M247.3,249.7 L263.2,258" stroke="#585858" stroke-width="0.784" fill="none"/><path d="M291.2,274.5 L298.8,279" stroke="#585858" stroke-width="0.784" fill="none"/><ellipse cx="302.5" cy="282.8" rx="4.505" ry="5.194" transform="rotate(20 302.5 282.8)" stroke="#585858" stroke-width="1.12" fill="#fff"/><path d="M302.59,285.98 L300.14,282.65 L301.45,278.57 L305.21,277.82 L307.66,281.15 L306.35,285.23Z" stroke="#585858" stroke-width="1.12" fill="#fff"/><ellipse cx="303.90000000000003" cy="281.9" rx="1.696" ry="2.12" transform="rotate(20 303.90000000000003 281.9)" stroke="#585858" stroke-width="1.12" fill="none"/><path d="M303,283 L330,304" stroke="#585858" stroke-width="0.896" fill="none" stroke-dasharray="15 4 4 4"/><ellipse cx="329.4" cy="303.8" rx="4.8" ry="5.8" transform="rotate(22 329.4 303.8)" stroke="#585858" stroke-width="1.456" fill="#fff"/><ellipse cx="328.79999999999995" cy="304.1" rx="4.32" ry="5.336" transform="rotate(22 328.79999999999995 304.1)" stroke="#585858" stroke-width="0.672" fill="none"/><ellipse cx="329.4" cy="303.8" rx="1.68" ry="2.03" transform="rotate(22 329.4 303.8)" stroke="#585858" stroke-width="1.232" fill="none"/><path d="M413.9,127.4 L424.4,121.7 L434.9,127.4 L434.9,212.3 L445.4,225.6 L435.8,232.3 L435.8,244.7 L442.5,256.2 L442.5,279 L433,283.8 L425.3,273.3 C419,268 417,262 417.7,255 C417,248 412,241 407.2,233.3 L413.9,227.6 Z" stroke="#585858" stroke-width="1.12" fill="none" /><path d="M415.8,129.3 L423.4,133.1 L423.4,218 L433,229.5" stroke="#585858" stroke-width="1.008" fill="none"/><path d="M415.8,129.3 L415.8,221.8" stroke="#585858" stroke-width="1.456" fill="none"/><path d="M428.2,220 L436.8,213.2 L445.4,225.6 L435.8,232.3Z" stroke="#585858" stroke-width="1.008" fill="none"/><path d="M413.9,227.6 L435.8,232.3" stroke="#585858" stroke-width="0.784" fill="none"/><path d="M423.4,237.1 L423.4,258 C426,262 431,264 433,267.6 L433,283.8" stroke="#585858" stroke-width="1.344" fill="none" /><ellipse cx="424.4" cy="262.8" rx="4" ry="5" transform="rotate(-15 424.4 262.8)" stroke="#585858" stroke-width="1.12" fill="none"/><ellipse cx="429.7" cy="138.8" rx="2.3" ry="3.3" transform="rotate(15 429.7 138.8)" stroke="#585858" stroke-width="1.12" fill="none"/><ellipse cx="429.7" cy="159.3" rx="2.3" ry="3.3" transform="rotate(15 429.7 159.3)" stroke="#585858" stroke-width="1.12" fill="none"/><ellipse cx="429.7" cy="179.9" rx="2.3" ry="3.3" transform="rotate(15 429.7 179.9)" stroke="#585858" stroke-width="1.12" fill="none"/><path d="M433,139.8 L533,197.2" stroke="#585858" stroke-width="0.896" fill="none" stroke-dasharray="22 5 5 5"/><path d="M539,202.9 L605,240" stroke="#585858" stroke-width="0.896" fill="none" stroke-dasharray="22 5 5 5"/><path d="M433,160.8 L516,210" stroke="#585858" stroke-width="0.896" fill="none" stroke-dasharray="22 5 5 5"/><path d="M521,212.5 L605,262" stroke="#585858" stroke-width="0.896" fill="none" stroke-dasharray="22 5 5 5"/><path d="M442.5,252.4 L461.6,241.9" stroke="#585858" stroke-width="0.896" fill="none"/><path d="M480.6,229.5 L495,221.3" stroke="#585858" stroke-width="0.896" fill="none"/><ellipse cx="474" cy="235" rx="8.2" ry="10.5" transform="rotate(22 474 235)" stroke="#585858" stroke-width="1.456" fill="#fff"/><ellipse cx="473.4" cy="235.3" rx="7.38" ry="9.66" transform="rotate(22 473.4 235.3)" stroke="#585858" stroke-width="0.672" fill="none"/><ellipse cx="474" cy="235" rx="3.69" ry="4.7250000000000005" transform="rotate(22 474 235)" stroke="#585858" stroke-width="1.232" fill="none"/><ellipse cx="502.9" cy="217.7" rx="8.2" ry="10.5" transform="rotate(22 502.9 217.7)" stroke="#585858" stroke-width="1.456" fill="#fff"/><ellipse cx="502.29999999999995" cy="218.0" rx="7.38" ry="9.66" transform="rotate(22 502.29999999999995 218.0)" stroke="#585858" stroke-width="0.672" fill="none"/><ellipse cx="502.9" cy="217.7" rx="4.1" ry="5.25" transform="rotate(22 502.9 217.7)" stroke="#585858" stroke-width="1.232" fill="none"/><path d="M510.5,213.9 L532.5,202" stroke="#585858" stroke-width="0.896" fill="none"/><path d="M537.08775821805,203.00897333883077 L560.9877582180501,188.80897333883078" stroke="#585858" stroke-width="1.12" fill="none"/><path d="M533.5122417819499,196.99102666116923 L557.41224178195,182.79102666116924" stroke="#585858" stroke-width="1.12" fill="none"/><path d="M561.6266232008753,189.9414369294937 L574.4266232008753,182.4414369294937" stroke="#585858" stroke-width="1.12" fill="none"/><path d="M556.7733767991248,181.65856307050632 L569.5733767991247,174.15856307050632" stroke="#585858" stroke-width="1.12" fill="none"/><ellipse cx="535.3" cy="200" rx="2.4" ry="3.5" transform="rotate(-30 535.3 200)" stroke="#585858" stroke-width="1.12" fill="none"/><ellipse cx="559.2" cy="185.8" rx="2.6" ry="4.8" transform="rotate(-30 559.2 185.8)" stroke="#585858" stroke-width="1.12" fill="none"/><ellipse cx="546.8" cy="192.4" rx="1.5" ry="3.5" transform="rotate(-30 546.8 192.4)" stroke="#585858" stroke-width="0.896" fill="none"/><ellipse cx="573.5" cy="177.6" rx="7" ry="9.8" transform="rotate(-25 573.5 177.6)" stroke="#585858" stroke-width="1.12" fill="#fff"/><ellipse cx="575" cy="177.2" rx="5.6" ry="8.6" transform="rotate(-25 575 177.2)" stroke="#585858" stroke-width="0.896" fill="none"/><ellipse cx="385.3" cy="284.8" rx="7.6" ry="9.8" transform="rotate(22 385.3 284.8)" stroke="#585858" stroke-width="1.456" fill="#fff"/><ellipse cx="384.7" cy="285.1" rx="6.84" ry="9.016000000000002" transform="rotate(22 384.7 285.1)" stroke="#585858" stroke-width="0.672" fill="none"/><ellipse cx="385.3" cy="284.8" rx="3.42" ry="4.41" transform="rotate(22 385.3 284.8)" stroke="#585858" stroke-width="1.232" fill="none"/><path d="M393.8,279 L412,270.5" stroke="#585858" stroke-width="0.896" fill="none"/><path d="M378,289 L345,307" stroke="#585858" stroke-width="0.896" fill="none"/><ellipse cx="219.2" cy="320.0" rx="3.9099999999999997" ry="4.508" transform="rotate(20 219.2 320.0)" stroke="#585858" stroke-width="1.12" fill="#fff"/><path d="M219.47,322.64 L217.34,319.76 L218.47,316.21 L221.73,315.56 L223.86,318.44 L222.73,321.99Z" stroke="#585858" stroke-width="1.12" fill="#fff"/><ellipse cx="220.6" cy="319.09999999999997" rx="1.472" ry="1.8399999999999999" transform="rotate(20 220.6 319.09999999999997)" stroke="#585858" stroke-width="1.12" fill="none"/><path d="M223.2,321.8 L232.7,327.4" stroke="#585858" stroke-width="0.896" fill="none"/><path d="M198.3,346.8 C196.5,346 196.2,345 196.2,344 L196.2,336.2 C196.5,334 198,332.5 199.4,332 L211,330.9 L224.8,332 L231.2,327.7 L241.8,323.5 L242.8,329.8 L229,341.5 L210,341.5 L204.7,343.6 Z" stroke="#585858" stroke-width="1.12" fill="none" /><path d="M199.5,335 L211,333.5 L225,334.5" stroke="#585858" stroke-width="0.672" fill="none"/><path d="M198.09355874822896,349.22224306885806 L213.29355874822895,355.42224306885805" stroke="#585858" stroke-width="1.12" fill="none"/><path d="M199.90644125177104,344.77775693114194 L215.10644125177103,350.9777569311419" stroke="#585858" stroke-width="1.12" fill="none"/><ellipse cx="214.2" cy="353.2" rx="1.8" ry="2.6" transform="rotate(25 214.2 353.2)" stroke="#585858" stroke-width="1.12" fill="none"/><ellipse cx="231.2" cy="336.2" rx="1.8" ry="2.2" transform="rotate(0 231.2 336.2)" stroke="#585858" stroke-width="0.896" fill="none"/><ellipse cx="238.6" cy="330.9" rx="1.8" ry="2.2" transform="rotate(0 238.6 330.9)" stroke="#585858" stroke-width="0.896" fill="none"/><ellipse cx="243.8" cy="345.6" rx="5.5" ry="7" transform="rotate(20 243.8 345.6)" stroke="#585858" stroke-width="1.232" fill="#fff"/><ellipse cx="245" cy="346" rx="4" ry="5.5" transform="rotate(20 245 346)" stroke="#585858" stroke-width="1.008" fill="none"/><path d="M248.6,340.9 L262.9,344.8" stroke="#585858" stroke-width="0.896" fill="none"/><ellipse cx="201.7" cy="391.6" rx="6.12" ry="7.056" transform="rotate(20 201.7 391.6)" stroke="#585858" stroke-width="1.12" fill="#fff"/><path d="M201.33,396.25 L197.99,391.73 L199.77,386.18 L204.87,385.15 L208.21,389.67 L206.43,395.22Z" stroke="#585858" stroke-width="1.12" fill="#fff"/><ellipse cx="203.1" cy="390.7" rx="2.3040000000000003" ry="2.8800000000000003" transform="rotate(20 203.1 390.7)" stroke="#585858" stroke-width="1.12" fill="none"/><path d="M210.4,387 L262,356" stroke="#585858" stroke-width="0.896" fill="none" stroke-dasharray="15 4 4 4"/><path d="M215.2,354.4 L267.7,383.8" stroke="#585858" stroke-width="0.896" fill="none" stroke-dasharray="15 4 4 4"/><path d="M286.8,393.3 L342.4,426.7" stroke="#585858" stroke-width="0.896" fill="none" stroke-dasharray="15 4 4 4"/><path d="M304.2,367.9 L395,418" stroke="#585858" stroke-width="0.896" fill="none" stroke-dasharray="22 5 5 5"/><ellipse cx="312.2" cy="385.4" rx="6.2" ry="7.5" transform="rotate(20 312.2 385.4)" stroke="#585858" stroke-width="1.232" fill="#fff"/><ellipse cx="313.5" cy="386" rx="4.5" ry="5.8" transform="rotate(20 313.5 386)" stroke="#585858" stroke-width="1.008" fill="none"/><ellipse cx="347.2" cy="428" rx="5.2" ry="6.3" transform="rotate(22 347.2 428)" stroke="#585858" stroke-width="1.456" fill="#fff"/><ellipse cx="346.59999999999997" cy="428.3" rx="4.680000000000001" ry="5.796" transform="rotate(22 346.59999999999997 428.3)" stroke="#585858" stroke-width="0.672" fill="none"/><ellipse cx="347.2" cy="428" rx="2.08" ry="2.52" transform="rotate(22 347.2 428)" stroke="#585858" stroke-width="1.232" fill="none"/><path d="M352,430 L410,463" stroke="#585858" stroke-width="0.896" fill="none" stroke-dasharray="15 4 4 4"/><path d="M219.3,544.1 L247.2,528.1 L253.4,531.2" stroke="#585858" stroke-width="1.12" fill="none"/><path d="M256,546.7 L256,522.9 C256.5,521.5 258,521.5 259,522.5 L265,525.5 C267,527 270,526 273.6,523.4 L297.8,537.4 L267.9,553.9 L245.1,539.4 L255.5,534.8" stroke="#585858" stroke-width="1.12" fill="none" /><path d="M258.6,520.8 L288.5,504.3 L330.9,528.1" stroke="#585858" stroke-width="1.12" fill="none"/><path d="M330.9,528.1 C332.5,529 333,530 333,532 L333,642" stroke="#585858" stroke-width="1.12" fill="none" /><path d="M287.5,533.2 L287.5,541.5" stroke="#585858" stroke-width="0.896" fill="none"/><path d="M258,523 L258,546" stroke="#585858" stroke-width="0.784" fill="none"/><ellipse cx="273.6" cy="538.4" rx="4.3" ry="7.2" transform="rotate(28 273.6 538.4)" stroke="#585858" stroke-width="1.12" fill="none"/><path d="M267.9,566.3 L330.9,531.2" stroke="#585858" stroke-width="0.784" fill="none" stroke-dasharray="22 5 5 5"/><ellipse cx="261.2" cy="561.1" rx="1.8" ry="1.1" transform="rotate(0 261.2 561.1)" stroke="#585858" stroke-width="0.896" fill="none"/><path d="M219.7,543.9 L262,566 C265,568 266,570 265.5,573 L243.4,653.6" stroke="#585858" stroke-width="1.12" fill="none" /><path d="M222.6,548.3 L259,567 C262,569 262.5,571 262,574 L241,651" stroke="#585858" stroke-width="1.008" fill="none" /><path d="M219.7,543.9 L198.9,629.9" stroke="#585858" stroke-width="1.12" fill="none"/><path d="M222.6,548.3 L201.9,629.9" stroke="#585858" stroke-width="1.008" fill="none"/><path d="M199.1,626.8 L223.9,618.2 L241,627.7 L242,653.5" stroke="#585858" stroke-width="1.12" fill="none"/><path d="M201,630.5 L223.9,621 L239.5,629.6 L239.5,651.5" stroke="#585858" stroke-width="0.896" fill="none"/><path d="M199.1,633.4 L199.1,657.3 L204.8,663 L243,680.2 L243,653.5" stroke="#585858" stroke-width="1.12" fill="none"/><path d="M199.1,633.4 L242,653.5" stroke="#585858" stroke-width="1.008" fill="none"/><ellipse cx="217.6" cy="657.2" rx="9" ry="11.3" transform="rotate(-15 217.6 657.2)" stroke="#585858" stroke-width="1.008" fill="none"/><ellipse cx="213" cy="638" rx="1.8" ry="2.2" transform="rotate(0 213 638)" stroke="#585858" stroke-width="0.784" fill="none"/><path d="M201,661.1 L212.4,676.4 L213.4,709.8 L243,693.5" stroke="#585858" stroke-width="1.12" fill="none"/><ellipse cx="225.8" cy="693.5" rx="2.2" ry="3.2" transform="rotate(20 225.8 693.5)" stroke="#585858" stroke-width="0.896" fill="none"/><path d="M243.9,653.5 L243.9,691.6 L262,702.1 L348.8,652.2 L348.8,649.2 L333,641.8" stroke="#585858" stroke-width="1.12" fill="none"/><path d="M246,689.5 L333,641.8" stroke="#585858" stroke-width="0.896" fill="none"/><path d="M250.6,685.9 L300.2,663" stroke="#585858" stroke-width="0.784" fill="none" stroke-dasharray="15 4 4 4"/><ellipse cx="238.2" cy="584.8" rx="3.2" ry="4.4" transform="rotate(-20 238.2 584.8)" stroke="#585858" stroke-width="0.896" fill="none"/><ellipse cx="282" cy="610.6" rx="2.6" ry="3" transform="rotate(-20 282 610.6)" stroke="#585858" stroke-width="0.896" fill="none"/><ellipse cx="282" cy="651.6" rx="2.6" ry="3" transform="rotate(-20 282 651.6)" stroke="#585858" stroke-width="0.896" fill="none"/><ellipse cx="262" cy="692.5" rx="3.8" ry="2.4" transform="rotate(-20 262 692.5)" stroke="#585858" stroke-width="0.896" fill="none"/><ellipse cx="279.3" cy="682" rx="3.8" ry="2.4" transform="rotate(-20 279.3 682)" stroke="#585858" stroke-width="0.896" fill="none"/><ellipse cx="307" cy="666" rx="3.8" ry="2.4" transform="rotate(-20 307 666)" stroke="#585858" stroke-width="0.896" fill="none"/><ellipse cx="323" cy="657" rx="3.8" ry="2.4" transform="rotate(-20 323 657)" stroke="#585858" stroke-width="0.896" fill="none"/><ellipse cx="332.3" cy="651.6" rx="3.8" ry="2.4" transform="rotate(-20 332.3 651.6)" stroke="#585858" stroke-width="0.896" fill="none"/><ellipse cx="325" cy="604.7" rx="1.3" ry="1.3" transform="rotate(-20 325 604.7)" stroke="#585858" stroke-width="0.896" fill="none"/><ellipse cx="325.9" cy="628.4" rx="1.3" ry="1.3" transform="rotate(-20 325.9 628.4)" stroke="#585858" stroke-width="0.896" fill="none"/><ellipse cx="254.4" cy="662" rx="2.2" ry="2.8" transform="rotate(-20 254.4 662)" stroke="#585858" stroke-width="0.896" fill="none"/><path d="M241,588 L256.3,595.3" stroke="#585858" stroke-width="0.896" fill="none"/><path d="M251.01306749161952,566.5024355408445 L249.11306749161952,580.8024355408445" stroke="#585858" stroke-width="0.896" fill="none"/><path d="M253.98693250838048,566.8975644591555 L252.08693250838047,581.1975644591555" stroke="#585858" stroke-width="0.896" fill="none"/><path d="M266.0430060044106,611.1433930780026 L262.5430060044106,625.4433930780026" stroke="#585858" stroke-width="0.896" fill="none"/><path d="M268.9569939955894,611.8566069219974 L265.4569939955894,626.1566069219973" stroke="#585858" stroke-width="0.896" fill="none"/><path d="M253.55064759059812,643.6135060241595 L249.55064759059812,658.6135060241595" stroke="#585858" stroke-width="0.896" fill="none"/><path d="M256.44935240940185,644.3864939758405 L252.44935240940188,659.3864939758405" stroke="#585858" stroke-width="0.896" fill="none"/><path d="M233.04624720335957,552.4304018313626 L231.54624720335957,558.3304018313627" stroke="#585858" stroke-width="0.896" fill="none"/><path d="M235.95375279664043,553.1695981686373 L234.45375279664043,559.0695981686374" stroke="#585858" stroke-width="0.896" fill="none"/><path d="M311,566 C309,560 314,554 320,556 M316,572 C322,570 328,562 326,556 M313,565 C314,568 318,568 319,565" stroke="#585858" stroke-width="1.008" fill="none" /><path d="M333,611 L327,613.5 C324.5,615 324.5,618 327,619 L333,620" stroke="#585858" stroke-width="1.008"  fill="#fff"/><path d="M228.6,468.2 L228.6,648" stroke="#585858" stroke-width="0.896" fill="none" stroke-dasharray="22 5 5 5"/><path d="M190,554.2 L212.3,570.6" stroke="#585858" stroke-width="0.896" fill="none" stroke-dasharray="10 4 3 4"/><path d="M282,610.6 L347.3,648" stroke="#585858" stroke-width="0.896" fill="none" stroke-dasharray="22 5 5 5"/><path d="M283.5,652.2 L308.7,665.5" stroke="#585858" stroke-width="0.896" fill="none" stroke-dasharray="10 4 3 4"/><path d="M328,675.6 L347,686" stroke="#585858" stroke-width="0.896" fill="none" stroke-dasharray="10 4 3 4"/><ellipse cx="267.0" cy="448.4" rx="10" ry="5.4" transform="rotate(55 267.0 448.4)" stroke="#585858" stroke-width="2.621" fill="none"/><ellipse cx="267.0" cy="448.4" rx="10" ry="5.4" transform="rotate(55 267.0 448.4)" stroke="#fff" stroke-width="0.81" fill="none"/><ellipse cx="260.32" cy="452.2" rx="10" ry="5.4" transform="rotate(55 260.32 452.2)" stroke="#585858" stroke-width="2.621" fill="none"/><ellipse cx="260.32" cy="452.2" rx="10" ry="5.4" transform="rotate(55 260.32 452.2)" stroke="#fff" stroke-width="0.81" fill="none"/><ellipse cx="253.65" cy="456.0" rx="10" ry="5.4" transform="rotate(55 253.65 456.0)" stroke="#585858" stroke-width="2.621" fill="none"/><ellipse cx="253.65" cy="456.0" rx="10" ry="5.4" transform="rotate(55 253.65 456.0)" stroke="#fff" stroke-width="0.81" fill="none"/><ellipse cx="246.98" cy="459.8" rx="10" ry="5.4" transform="rotate(55 246.98 459.8)" stroke="#585858" stroke-width="2.621" fill="none"/><ellipse cx="246.98" cy="459.8" rx="10" ry="5.4" transform="rotate(55 246.98 459.8)" stroke="#fff" stroke-width="0.81" fill="none"/><ellipse cx="240.3" cy="463.6" rx="10" ry="5.4" transform="rotate(55 240.3 463.6)" stroke="#585858" stroke-width="2.621" fill="none"/><ellipse cx="240.3" cy="463.6" rx="10" ry="5.4" transform="rotate(55 240.3 463.6)" stroke="#fff" stroke-width="0.81" fill="none"/><path d="M363.3,636.2 L331.7,742.7 L383.1,771.5 L437.2,764.3 C441,763 442.7,761 443,758 L443.6,713.8" stroke="#585858" stroke-width="1.12" fill="none" /><path d="M363.3,636.2 L413.8,663.3 L435.4,704.8" stroke="#585858" stroke-width="1.12" fill="none"/><path d="M365,634.5 L415,661.5" stroke="#585858" stroke-width="1.008" fill="none"/><path d="M363.3,636.2 C363,634 365,633.5 366,634" stroke="#585858" stroke-width="1.008" fill="none" /><path d="M413.8,668.7 L383.1,771.5" stroke="#585858" stroke-width="0.896" fill="none" stroke-dasharray="22 5 5 5"/><path d="M436.3,703 L450,696.5 C453,695.5 455.3,697 455.3,700 L455.3,752.5 C455.3,756.5 452,758.5 449.9,758 L444.5,754.4" stroke="#585858" stroke-width="1.12" fill="none" /><path d="M435.4,704.8 L439,707.5 L443.6,713.8" stroke="#585858" stroke-width="1.008" fill="none"/><ellipse cx="448.1" cy="706.6" rx="2.5" ry="3.5" transform="rotate(20 448.1 706.6)" stroke="#585858" stroke-width="1.008" fill="none"/><ellipse cx="448.1" cy="747.2" rx="2.5" ry="3.5" transform="rotate(20 448.1 747.2)" stroke="#585858" stroke-width="1.008" fill="none"/><path d="M384.6,677.2 C385.5,676.5 386,676.5 387,677 L399.4,683.9 L382.7,741.2 L369.3,733.5 C368.5,732.5 368.5,730.5 370.3,729.7 L375,731.6 C376,731 377,730 377.4,728.8 L382.7,711.6 L378.9,709.2 C377,708 376,706 376.5,704.9 C376.8,704 377.5,703.5 377.9,703.5 L382.7,704.9 C384.5,704 385.8,702.5 386.5,701.1 L390.3,684.8 L385.6,682 C384.5,681 384,679 384.6,677.2 Z" stroke="#585858" stroke-width="1.008" fill="none" /><path d="M378.5,706 L390.3,713.5" stroke="#585858" stroke-width="0.896" fill="none"/><path d="M386,679 L388.5,683 L384.5,700" stroke="#585858" stroke-width="0.672" fill="none"/><path d="M372,731 L375.5,730 L381,712" stroke="#585858" stroke-width="0.672" fill="none"/><path d="M370,734 L382.5,741" stroke="#585858" stroke-width="1.344" fill="none"/><path d="M451.7,708.4 L467.9,717.4" stroke="#585858" stroke-width="0.896" fill="none"/><ellipse cx="474.7" cy="722.6" rx="6.12" ry="7.056" transform="rotate(20 474.7 722.6)" stroke="#585858" stroke-width="1.12" fill="#fff"/><path d="M474.33,727.25 L470.99,722.73 L472.77,717.18 L477.87,716.15 L481.21,720.67 L479.43,726.22Z" stroke="#585858" stroke-width="1.12" fill="#fff"/><ellipse cx="476.1" cy="721.7" rx="2.3040000000000003" ry="2.8800000000000003" transform="rotate(20 476.1 721.7)" stroke="#585858" stroke-width="1.12" fill="none"/><ellipse cx="495.9" cy="734.5" rx="5.8" ry="6.8" transform="rotate(-15 495.9 734.5)" stroke="#585858" stroke-width="1.12" fill="#fff"/><ellipse cx="497" cy="735" rx="4.2" ry="5" transform="rotate(-15 497 735)" stroke="#585858" stroke-width="1.008" fill="none"/><ellipse cx="497.5" cy="735.5" rx="1.8" ry="2" transform="rotate(0 497.5 735.5)" stroke="#585858" stroke-width="0.896" fill="none"/><path d="M453.5,751.7 L461.6,755.3" stroke="#585858" stroke-width="0.896" fill="none"/><path d="M459.48258188836985,758.2114499034914 L469.3825818883698,765.4114499034914" stroke="#585858" stroke-width="1.12" fill="none"/><path d="M463.7174181116302,752.3885500965085 L473.6174181116302,759.5885500965086" stroke="#585858" stroke-width="1.12" fill="none"/><ellipse cx="461.6" cy="755.3" rx="1.8" ry="3.6" transform="rotate(35 461.6 755.3)" stroke="#585858" stroke-width="1.008" fill="none"/><path d="M471,757 L477,755.5 L482,759 L482.5,765 L478,770 L472,769.5 L469,764 Z" stroke="#585858" stroke-width="1.12"  fill="#fff"/><path d="M477,755.5 L477,763 L472,769.5" stroke="#585858" stroke-width="0.672" fill="none"/><path d="M17.5,451.5 L60,476 L61,478 L70,483 M12.9,460.8 L55.8,484.4 L57,484 L66,489" stroke="#585858" stroke-width="1.12" fill="none" /><path d="M3,450 L8,444.5 L14,445 L17.5,448 L17.5,452 M3,450 L2.5,458 L7,461.5 L12,461.5 M8,447.5 C6,451 6,458 8.5,460.5" stroke="#585858" stroke-width="1.12" fill="none" /><ellipse cx="68.5" cy="486" rx="2.6" ry="3.8" transform="rotate(-30 68.5 486)" stroke="#585858" stroke-width="1.12" fill="none"/><path d="M72,488 L190,554.2" stroke="#585858" stroke-width="0.896" fill="none" stroke-dasharray="22 5 5 5"/><path d="M302.3,456.1 C296,456 289.5,461 288.5,468 C287.5,475 290,482 296.7,485.6 L303.4,481.7 L310,482.8 L313.4,481.2 L320.1,462.3 L319.5,460.6 Z" stroke="#585858" stroke-width="1.232"  fill="#fff"/><path d="M302.3,456.7 C298,462 294,472 293.4,482.3" stroke="#585858" stroke-width="1.008" fill="none" /><path d="M304.5,457.5 C300,463 297,472 296,482" stroke="#585858" stroke-width="0.896" fill="none" /><path d="M305.5,461 L313,463 L309,467 Z" stroke="#585858" stroke-width="1.008" fill="none" /><path d="M298.5,475 L305,472 L310,480 L303,481 Z" stroke="#585858" stroke-width="1.008" fill="none" /><ellipse cx="310" cy="473.4" rx="1.8" ry="2.6" transform="rotate(20 310 473.4)" stroke="#585858" stroke-width="1.008" fill="none"/><path d="M315.6,475.6 L344.5,491.2" stroke="#585858" stroke-width="0.896" fill="none" stroke-dasharray="15 4 4 4"/><path d="M347.9,489 L375.7,494.5 L377.9,491.7 L382.4,490.6 L391.3,493.4 C393,494.5 393.5,496 393.5,496.8 L386.8,497.9 L384,500.1 C390,504 396,508 402.4,509 L502.6,526.2" stroke="#585858" stroke-width="1.12" fill="none" /><path d="M347.9,489 L346.8,489 L345.5,496 L342,497 L341.8,502.3 L369,506.8 L391.3,517.9 L435.8,531.8 L502.6,538.5" stroke="#585858" stroke-width="1.12" fill="none" /><ellipse cx="354.6" cy="497.7" rx="1.8" ry="2.2" transform="rotate(0 354.6 497.7)" stroke="#585858" stroke-width="0.896" fill="none"/><path d="M405,512 L490,523" stroke="#585858" stroke-width="0.672" fill="none"/><path d="M474.2,517.5 C476,514.5 479,513.6 482,513.3 C486,513 488,515 488.5,521.2 M482,517 C484,515.5 486,516 486.5,519" stroke="#585858" stroke-width="1.008" fill="none" /><path d="M416.1,530.5 L422.6,527.5 M416.1,530.5 C415.5,533 416,536 417.5,537 L435.1,529.2 M418.2,531.5 L418.5,536" stroke="#585858" stroke-width="1.008" fill="none" /><path d="M415.5,542 L441.6,531.2 M417.5,543.4 L440.6,532.2 M415.5,542 C414.5,545 415,548 416.8,549.2 L448,535.3 M417.5,543.4 L417.8,548.5" stroke="#585858" stroke-width="1.008" fill="none" /><ellipse cx="500" cy="532.8" rx="4" ry="5.6" transform="rotate(-10 500 532.8)" stroke="#585858" stroke-width="1.12" fill="#fff"/><path d="M502.5,527.3 L773.75,688.25" stroke="#585858" stroke-width="1.12" fill="none"/><path d="M501.5,538.3 L770,697" stroke="#585858" stroke-width="1.12" fill="none"/><path d="M411.3,529.1 L482.8,571" stroke="#585858" stroke-width="0.896" fill="none" stroke-dasharray="22 5 5 5"/><path d="M528.2,484 L536,479.5 C539,479 541.5,480 541.5,482.8 L542.6,511.8 C542,515 539,516.5 536,516.2 L527.1,512.9 L528.2,508.4 L533.7,505.1 L533.7,491.7 L528.2,489.5 Z" stroke="#585858" stroke-width="1.12" fill="none" /><path d="M530,486 L531,492" stroke="#585858" stroke-width="0.784" fill="none"/><ellipse cx="532.2" cy="487.3" rx="1.6" ry="1.9" transform="rotate(0 532.2 487.3)" stroke="#585858" stroke-width="0.896" fill="none"/><ellipse cx="531.5" cy="511.8" rx="1.6" ry="1.9" transform="rotate(0 531.5 511.8)" stroke="#585858" stroke-width="0.896" fill="none"/><path d="M537,514.4 L576.4,537.8" stroke="#585858" stroke-width="0.896" fill="none" stroke-dasharray="15 4 4 4"/><path d="M575.3875988624716,539.5248315676411 L579.9875988624716,542.2248315676411" stroke="#585858" stroke-width="1.12" fill="none"/><path d="M577.4124011375284,536.0751684323589 L582.0124011375284,538.7751684323589" stroke="#585858" stroke-width="1.12" fill="none"/><ellipse cx="583.8" cy="541.5" rx="3.6" ry="4" transform="rotate(0 583.8 541.5)" stroke="#585858" stroke-width="1.12" fill="#fff"/><path d="M532,499.6 L330,625.3" stroke="#585858" stroke-width="0.896" fill="none" stroke-dasharray="22 5 5 5"/><path d="M529.6,516.8 L468,551.3" stroke="#585858" stroke-width="0.896" fill="none" stroke-dasharray="22 5 5 5"/><ellipse cx="489.6" cy="579.5" rx="8.6" ry="15" transform="rotate(18 489.6 579.5)" stroke="#585858" stroke-width="1.12" fill="#fff"/><path d="M492,564.8 C497,563.5 503,566 506,569 C509,571.5 511,574 510.8,577 C510.5,581 509.5,585 508.1,586.9 C505,590 501,592 498.6,592.2" stroke="#585858" stroke-width="1.12" fill="none" /><ellipse cx="502.3" cy="582.7" rx="1.8" ry="3.4" transform="rotate(15 502.3 582.7)" stroke="#585858" stroke-width="1.008" fill="none"/><path d="M500.5,578 C503,577 505,580 504.5,584" stroke="#585858" stroke-width="0.784" fill="none" /><path d="M507.4,585.8 L546.9,608" stroke="#585858" stroke-width="0.896" fill="none" stroke-dasharray="15 4 4 4"/><path d="M548,609.5 L557.5,614.5" stroke="#585858" stroke-width="3.584" fill="none" /><path d="M548.5,609.8 L557,614.3" stroke="#fff" stroke-width="1.2" fill="none" stroke-dasharray="1.2 1.3"/><ellipse cx="560.4" cy="615.5" rx="2.2" ry="3.2" transform="rotate(-30 560.4 615.5)" stroke="#585858" stroke-width="1.12" fill="none"/><ellipse cx="626.0" cy="639.8" rx="8.8" ry="4.8" transform="rotate(60 626.0 639.8)" stroke="#585858" stroke-width="2.621" fill="none"/><ellipse cx="626.0" cy="639.8" rx="8.8" ry="4.8" transform="rotate(60 626.0 639.8)" stroke="#fff" stroke-width="0.81" fill="none"/><ellipse cx="619.2" cy="643.85" rx="8.8" ry="4.8" transform="rotate(60 619.2 643.85)" stroke="#585858" stroke-width="2.621" fill="none"/><ellipse cx="619.2" cy="643.85" rx="8.8" ry="4.8" transform="rotate(60 619.2 643.85)" stroke="#fff" stroke-width="0.81" fill="none"/><ellipse cx="612.4" cy="647.9" rx="8.8" ry="4.8" transform="rotate(60 612.4 647.9)" stroke="#585858" stroke-width="2.621" fill="none"/><ellipse cx="612.4" cy="647.9" rx="8.8" ry="4.8" transform="rotate(60 612.4 647.9)" stroke="#fff" stroke-width="0.81" fill="none"/><ellipse cx="605.6" cy="651.95" rx="8.8" ry="4.8" transform="rotate(60 605.6 651.95)" stroke="#585858" stroke-width="2.621" fill="none"/><ellipse cx="605.6" cy="651.95" rx="8.8" ry="4.8" transform="rotate(60 605.6 651.95)" stroke="#fff" stroke-width="0.81" fill="none"/><ellipse cx="598.8" cy="656.0" rx="8.8" ry="4.8" transform="rotate(60 598.8 656.0)" stroke="#585858" stroke-width="2.621" fill="none"/><ellipse cx="598.8" cy="656.0" rx="8.8" ry="4.8" transform="rotate(60 598.8 656.0)" stroke="#fff" stroke-width="0.81" fill="none"/><path d="M567.8,673.3 L567.8,842" stroke="#585858" stroke-width="0.896" fill="none" stroke-dasharray="22 5 5 5"/><path d="M555.6,738.4 L624.4,698.3 L667.7,723.1" stroke="#585858" stroke-width="1.12" fill="none"/><path d="M667.7,723.1 C669,724 669.6,726 669.6,728.2 L667.2,829.7" stroke="#585858" stroke-width="1.12" fill="none" /><path d="M581.1,733.9 L609.1,717.4 L633.3,730.7 L632,733.3 L629.5,733.9 L629.5,737.7 L637.7,741.6 L639.7,776.6 L628.2,781.7 L627.6,758.7 C627,750 622,744 616.7,743.5 L604,747.3 Z" stroke="#585858" stroke-width="1.008" fill="none" /><path d="M624.4,728.2 L624.4,756.2" stroke="#585858" stroke-width="0.896" fill="none"/><path d="M628.2,758.7 L637.1,755" stroke="#585858" stroke-width="0.896" fill="none"/><path d="M637.7,741.6 L639.7,743 L641,776 L639.7,776.6" stroke="#585858" stroke-width="0.784" fill="none"/><path d="M603.5,733 C601,738 603,743 607,743 M612,741 C617,738 620,731 618.5,725 M607,736 C608.5,739 611,738 611.5,735" stroke="#585858" stroke-width="1.12" fill="none" /><ellipse cx="567.1" cy="738.4" rx="2.2" ry="1.2" transform="rotate(0 567.1 738.4)" stroke="#585858" stroke-width="0.896" fill="none"/><path d="M601.5,762.6 L621.8,751.7" stroke="#585858" stroke-width="0.784" fill="none" stroke-dasharray="6 3 2 3"/><path d="M638.4,740.9 L667.7,725.6" stroke="#585858" stroke-width="0.784" fill="none" stroke-dasharray="15 4 4 4"/><path d="M669.6,738.4 L680,732" stroke="#585858" stroke-width="1.008" fill="none"/><path d="M669.6,759.4 L680,753.6" stroke="#585858" stroke-width="1.008" fill="none"/><path d="M555.6,738.4 L598.9,762.6 C600.5,763.5 601.5,765 601.5,766.4 L575.6,845.8" stroke="#585858" stroke-width="1.12" fill="none" /><path d="M556.9,740.9 L597.6,763.8 C598.5,764.5 598.8,765.5 598.5,767 L572.3,845.8" stroke="#585858" stroke-width="1.008" fill="none" /><path d="M555.6,738.4 L533.8,826.5" stroke="#585858" stroke-width="1.12" fill="none"/><path d="M556.9,742.2 L537,826.5" stroke="#585858" stroke-width="1.008" fill="none"/><path d="M535.4,824.9 L556.3,813.6 L578.8,821.7 L578.8,845.8" stroke="#585858" stroke-width="1.12" fill="none"/><path d="M538,826.5 L556.5,817 L576,824 L576,845" stroke="#585858" stroke-width="0.896" fill="none"/><path d="M535.4,829.7 L535.4,865.1 L578.8,879.5 L578.8,845.8" stroke="#585858" stroke-width="1.12" fill="none"/><path d="M535.4,829.7 L575.6,845.8" stroke="#585858" stroke-width="0.896" fill="none"/><ellipse cx="553" cy="852.2" rx="9" ry="10.5" transform="rotate(-10 553 852.2)" stroke="#585858" stroke-width="1.008" fill="none"/><path d="M519.3,850.6 L532.2,845.8 L535.4,858.6" stroke="#585858" stroke-width="1.12" fill="none"/><path d="M519.3,850.6 L520,856 L535.4,862" stroke="#585858" stroke-width="1.12" fill="none"/><ellipse cx="525" cy="851.5" rx="2" ry="1.5" transform="rotate(0 525 851.5)" stroke="#585858" stroke-width="0.896" fill="none"/><path d="M578.8,877.9 L567.5,884.4 L567.5,914.9 L655.9,869.9 L655.9,833" stroke="#585858" stroke-width="1.12" fill="none"/><path d="M578.8,877.9 L667.2,829.7" stroke="#585858" stroke-width="1.12" fill="none"/><path d="M570,886 L570,913" stroke="#585858" stroke-width="0.672" fill="none"/><ellipse cx="654.9" cy="758.1" rx="4.6" ry="6.6" transform="rotate(20 654.9 758.1)" stroke="#585858" stroke-width="1.12" fill="none"/><ellipse cx="654.5" cy="815.5" rx="4.6" ry="6.6" transform="rotate(20 654.5 815.5)" stroke="#585858" stroke-width="1.12" fill="none"/><path d="M630,788 C631,785.5 636,786 635.5,789 L634,799 C633,802 629,801.5 629.5,798 Z M631.5,789 L631,798" stroke="#585858" stroke-width="1.008" fill="none" /><ellipse cx="619" cy="805.6" rx="2.8" ry="3.2" transform="rotate(-20 619 805.6)" stroke="#585858" stroke-width="0.896" fill="none"/><ellipse cx="574" cy="779.1" rx="2.6" ry="3" transform="rotate(-20 574 779.1)" stroke="#585858" stroke-width="0.896" fill="none"/><ellipse cx="591.6" cy="857" rx="2.2" ry="2.6" transform="rotate(-20 591.6 857)" stroke="#585858" stroke-width="0.896" fill="none"/><ellipse cx="638.3" cy="865.1" rx="2.2" ry="2.6" transform="rotate(-20 638.3 865.1)" stroke="#585858" stroke-width="0.896" fill="none"/><ellipse cx="582" cy="897.2" rx="2.2" ry="2.6" transform="rotate(-20 582 897.2)" stroke="#585858" stroke-width="0.896" fill="none"/><path d="M619.2845637583893,764.6208053691275 L614.1845637583892,778.6208053691275" stroke="#585858" stroke-width="0.896" fill="none"/><path d="M621.9154362416108,765.5791946308725 L616.8154362416108,779.5791946308725" stroke="#585858" stroke-width="0.896" fill="none"/><path d="M560.1007430765209,779.1785295341139 L554.2007430765209,793.8785295341138" stroke="#585858" stroke-width="0.896" fill="none"/><path d="M562.6992569234791,780.2214704658862 L556.7992569234791,794.9214704658862" stroke="#585858" stroke-width="0.896" fill="none"/><path d="M599.6131304190592,845.6087076440081 L597.6131304190592,860.1087076440081" stroke="#585858" stroke-width="0.896" fill="none"/><path d="M602.3868695809408,845.9912923559918 L600.3868695809408,860.4912923559918" stroke="#585858" stroke-width="0.896" fill="none"/><path d="M564.6271870540327,816.7254374108065 L563.6271870540327,821.7254374108065" stroke="#585858" stroke-width="0.896" fill="none"/><path d="M567.3728129459673,817.2745625891935 L566.3728129459673,822.2745625891935" stroke="#585858" stroke-width="0.896" fill="none"/><path d="M500,736.5 L548.2,763.8" stroke="#585858" stroke-width="0.896" fill="none" stroke-dasharray="15 4 4 4"/><path d="M576,780 L584.9,784.8 L596.4,777.8" stroke="#585858" stroke-width="0.896" fill="none"/><path d="M619,805.6 L660.8,829.7" stroke="#585858" stroke-width="0.896" fill="none" stroke-dasharray="15 4 4 4"/><path d="M667,833 L686,843" stroke="#585858" stroke-width="0.896" fill="none" stroke-dasharray="8 3"/><path d="M591.6,857 L664,900.5" stroke="#585858" stroke-width="0.896" fill="none" stroke-dasharray="22 5 5 5"/><path d="M582,897.2 L628.6,924.6" stroke="#585858" stroke-width="0.896" fill="none" stroke-dasharray="15 4 4 4"/><path d="M530.5,869.9 L530.5,943" stroke="#585858" stroke-width="0.896" fill="none" stroke-dasharray="22 5 5 5"/><path d="M487.5,915.75 L530,940.75" stroke="#585858" stroke-width="0.896" fill="none" stroke-dasharray="15 4 4 4"/><path d="M530.5,869.9 L565,887" stroke="#585858" stroke-width="0.896" fill="none" stroke-dasharray="15 4 4 4"/><ellipse cx="478.2" cy="912.6" rx="5.95" ry="6.859999999999999" transform="rotate(20 478.2 912.6)" stroke="#585858" stroke-width="1.12" fill="#fff"/><path d="M477.88,917.09 L474.64,912.7 L476.36,907.3 L481.32,906.31 L484.56,910.7 L482.84,916.1Z" stroke="#585858" stroke-width="1.12" fill="#fff"/><ellipse cx="479.6" cy="911.7" rx="2.24" ry="2.8000000000000003" transform="rotate(20 479.6 911.7)" stroke="#585858" stroke-width="1.12" fill="none"/><path d="M503,738 L548,764" stroke="#585858" stroke-width="0.0" fill="none"/><path d="M683.93,848.29 L694.4,854.16 L693.62,855.56 L735.48,879.05" stroke="#585858" stroke-width="1.12" fill="none"/><path d="M687.07,842.71 L697.53,848.58 L698.31,847.19 L740.17,870.68" stroke="#585858" stroke-width="1.12" fill="none"/><ellipse cx="685.5" cy="845.5" rx="1.6" ry="3.2" transform="rotate(29.3 685.5 845.5)" stroke="#585858" stroke-width="1.12" fill="none"/><ellipse cx="695.96" cy="851.37" rx="1.92" ry="4.8" transform="rotate(29.3 695.96 851.37)" stroke="#585858" stroke-width="0.896" fill="none"/><path d="M747.35,878.53 L742.05,885.04 L734.81,882.66 L732.87,873.77 L738.17,867.26 L745.41,869.64Z" stroke="#585858" stroke-width="1.12" fill="#fff"/><path d="M735.99,875.23 L739.36,876.61" stroke="#585858" stroke-width="0.672" fill="none"/><path d="M664.3188739171751,901.3560552730106 L669.8188739171751,904.8560552730106" stroke="#585858" stroke-width="1.12" fill="none"/><path d="M666.6811260828249,897.6439447269894 L672.1811260828249,901.1439447269894" stroke="#585858" stroke-width="1.12" fill="none"/><ellipse cx="665.5" cy="899.5" rx="1.3" ry="2.2" transform="rotate(35 665.5 899.5)" stroke="#585858" stroke-width="0.896" fill="none"/><path d="M670,902 L675,899 L680,902 L681,908 L677,912 L671,911 L668,907 Z M675,899 L674,906 L671,911" stroke="#585858" stroke-width="1.12"  fill="#fff"/><path d="M628.8914837438471,927.9003135819765 L634.8914837438471,931.4003135819765" stroke="#585858" stroke-width="1.12" fill="none"/><path d="M631.1085162561529,924.0996864180235 L637.1085162561529,927.5996864180235" stroke="#585858" stroke-width="1.12" fill="none"/><path d="M635,928 L640,925 L645,928 L646,934 L642,938 L636,937 L633,933 Z M640,925 L639,932 L636,937" stroke="#585858" stroke-width="1.12"  fill="#fff"/><g transform="translate(-640.5,-239.1)"><path d="M903,584.5 C896,584 891.5,590 892,596 C892.5,601 896,603.5 901,603" stroke="#585858" stroke-width="1.12" fill="none" /><path d="M911.4,600.4 L910.5,628.4 L900.4,638.6 L899.5,664 L902.9,665.7 L929.2,648.8 L930.9,630.1 L934.3,626 L934.3,604.7 L932.6,580.9 L927.5,574.1 L913.9,575.8 C907,580 905,590 908,598 Z" stroke="#585858" stroke-width="1.12"  fill="#fff"/><ellipse cx="910.5" cy="591.9" rx="6.5" ry="8" transform="rotate(-15 910.5 591.9)" stroke="#585858" stroke-width="1.12" fill="#fff"/><ellipse cx="910.8" cy="592.2" rx="3.2" ry="3.8" transform="rotate(-15 910.8 592.2)" stroke="#585858" stroke-width="1.12" fill="none"/><path d="M916,578 C921,580 923,588 921,600 M920,576 C927,578 929,588 927,602" stroke="#585858" stroke-width="0.896" fill="none" /><ellipse cx="937.7" cy="615.7" rx="6.3" ry="7.5" transform="rotate(-15 937.7 615.7)" stroke="#585858" stroke-width="1.12" fill="#fff"/><ellipse cx="937.2" cy="616.2" rx="4" ry="5" transform="rotate(-15 937.2 616.2)" stroke="#585858" stroke-width="1.12" fill="none"/><path d="M916.5,617.4 L930.9,625" stroke="#585858" stroke-width="1.568" fill="none"/><path d="M920,640 L921,660" stroke="#585858" stroke-width="0.784" fill="none"/><path d="M930.9,577.5 L981.8,552.1 C983,548 987,546 990.3,547 L1014,562.2 C1017,565 1017,571 1010.6,574.1 L1002.2,570.7 L980.1,580.9 L936,604" stroke="#585858" stroke-width="1.12" fill="none" /><ellipse cx="1010.6" cy="568.2" rx="1.8" ry="2.2" transform="rotate(0 1010.6 568.2)" stroke="#585858" stroke-width="0.896" fill="none"/><path d="M937.7,563.9 L946.2,561.4 L983.5,585.1 L981,594.5 L937.7,570.7Z" stroke="#585858" stroke-width="1.008" fill="none"/><path d="M934.3,584.3 L978.4,555.4" stroke="#585858" stroke-width="0.896" fill="none"/><path d="M936,589.4 L985.2,563.1" stroke="#585858" stroke-width="0.896" fill="none"/><path d="M936,604.7 L969.9,589.4" stroke="#585858" stroke-width="0.896" fill="none"/><path d="M937,608 L971,592.5" stroke="#585858" stroke-width="0.896" fill="none"/></g><path d="M689,457 L903,584.2" stroke="#585858" stroke-width="0.896" fill="none" stroke-dasharray="22 5 5 5"/><path d="M677.9,491.5 L970,658" stroke="#585858" stroke-width="0.896" fill="none" stroke-dasharray="22 5 5 5"/><path d="M636.3,687.9 L849.1,565.9 L979.5,641.4 L877.7,700 L766.7,764.2" stroke="#585858" stroke-width="0.896" fill="none" stroke-dasharray="22 5 5 5"/><path d="M636.3,687.9 L693.5,722.8 L669.7,738.7" stroke="#585858" stroke-width="0.896" fill="none" stroke-dasharray="22 5 5 5"/><path d="M669.7,759.4 L715.8,735.5 L766.7,764.2" stroke="#585858" stroke-width="0.896" fill="none" stroke-dasharray="22 5 5 5"/><path d="M869.9,613.1 L910.4,591.6" stroke="#585858" stroke-width="0.896" fill="none" stroke-dasharray="15 4 4 4"/><path d="M988.6,545.3 L1019.1,530" stroke="#585858" stroke-width="0.896" fill="none" stroke-dasharray="15 4 4 4"/><ellipse cx="882.5" cy="585.1" rx="6.2" ry="7.2" transform="rotate(20 882.5 585.1)" stroke="#585858" stroke-width="1.232" fill="#fff"/><ellipse cx="884" cy="585.5" rx="4.5" ry="5.6" transform="rotate(20 884 585.5)" stroke="#585858" stroke-width="1.008" fill="none"/><ellipse cx="864.5" cy="619.1" rx="6.12" ry="7.056" transform="rotate(20 864.5 619.1)" stroke="#585858" stroke-width="1.12" fill="#fff"/><path d="M864.13,623.75 L860.79,619.23 L862.57,613.68 L867.67,612.65 L871.01,617.17 L869.23,622.72Z" stroke="#585858" stroke-width="1.12" fill="#fff"/><ellipse cx="865.9" cy="618.2" rx="2.3040000000000003" ry="2.8800000000000003" transform="rotate(20 865.9 618.2)" stroke="#585858" stroke-width="1.12" fill="none"/><path d="M903,584.5 C896,584 891.5,590 892,596 C892.5,601 896,603.5 901,603" stroke="#585858" stroke-width="1.12" fill="none" /><path d="M911.4,600.4 L910.5,628.4 L900.4,638.6 L899.5,664 L902.9,665.7 L929.2,648.8 L930.9,630.1 L934.3,626 L934.3,604.7 L932.6,580.9 L927.5,574.1 L913.9,575.8 C907,580 905,590 908,598 Z" stroke="#585858" stroke-width="1.12"  fill="#fff"/><ellipse cx="910.5" cy="591.9" rx="6.5" ry="8" transform="rotate(-15 910.5 591.9)" stroke="#585858" stroke-width="1.12" fill="#fff"/><ellipse cx="910.8" cy="592.2" rx="3.2" ry="3.8" transform="rotate(-15 910.8 592.2)" stroke="#585858" stroke-width="1.12" fill="none"/><path d="M916,578 C921,580 923,588 921,600 M920,576 C927,578 929,588 927,602" stroke="#585858" stroke-width="0.896" fill="none" /><ellipse cx="937.7" cy="615.7" rx="6.3" ry="7.5" transform="rotate(-15 937.7 615.7)" stroke="#585858" stroke-width="1.12" fill="#fff"/><ellipse cx="937.2" cy="616.2" rx="4" ry="5" transform="rotate(-15 937.2 616.2)" stroke="#585858" stroke-width="1.12" fill="none"/><path d="M916.5,617.4 L930.9,625" stroke="#585858" stroke-width="1.568" fill="none"/><path d="M920,640 L921,660" stroke="#585858" stroke-width="0.784" fill="none"/><path d="M930.9,577.5 L981.8,552.1 C983,548 987,546 990.3,547 L1014,562.2 C1017,565 1017,571 1010.6,574.1 L1002.2,570.7 L980.1,580.9 L936,604" stroke="#585858" stroke-width="1.12" fill="none" /><ellipse cx="1010.6" cy="568.2" rx="1.8" ry="2.2" transform="rotate(0 1010.6 568.2)" stroke="#585858" stroke-width="0.896" fill="none"/><path d="M937.7,563.9 L946.2,561.4 L983.5,585.1 L981,594.5 L937.7,570.7Z" stroke="#585858" stroke-width="1.008" fill="none"/><path d="M934.3,584.3 L978.4,555.4" stroke="#585858" stroke-width="0.896" fill="none"/><path d="M936,589.4 L985.2,563.1" stroke="#585858" stroke-width="0.896" fill="none"/><path d="M936,604.7 L969.9,589.4" stroke="#585858" stroke-width="0.896" fill="none"/><path d="M937,608 L971,592.5" stroke="#585858" stroke-width="0.896" fill="none"/><ellipse cx="953" cy="625.9" rx="6.5" ry="8" transform="rotate(20 953 625.9)" stroke="#585858" stroke-width="1.232" fill="#fff"/><ellipse cx="954.5" cy="626.3" rx="4.6" ry="6" transform="rotate(20 954.5 626.3)" stroke="#585858" stroke-width="1.008" fill="none"/><path d="M960.4,629.5 L979.5,641.4" stroke="#585858" stroke-width="0.896" fill="none" stroke-dasharray="8 3"/><ellipse cx="673" cy="488.25" rx="5.2" ry="6.3" transform="rotate(22 673 488.25)" stroke="#585858" stroke-width="1.456" fill="#fff"/><ellipse cx="672.4" cy="488.55" rx="4.680000000000001" ry="5.796" transform="rotate(22 672.4 488.55)" stroke="#585858" stroke-width="0.672" fill="none"/><ellipse cx="673" cy="488.25" rx="2.08" ry="2.52" transform="rotate(22 673 488.25)" stroke="#585858" stroke-width="1.232" fill="none"/><path d="M971.4,657.3 L988,665.6 M970.2,663.1 L984.8,670.7 M971.4,657.3 C969,657.5 968.5,661.5 970.2,663.1" stroke="#585858" stroke-width="1.12" fill="none" /><path d="M984.8,667.5 L984.8,671.3 L990.5,674.5 L1002,668.2 L1002.3,659.3" stroke="#585858" stroke-width="1.12" fill="none" /><path d="M984.8,667.5 L999.4,659.3 M988,665.6 L999.4,659.3" stroke="#585858" stroke-width="1.12" fill="none" /><path d="M999.4,659.3 L998.8,650.5 C998.8,649.5 999.5,648.5 1000.5,648 L1016,640.5 L1017.5,641.8 L1017.5,649.7 L1002.3,659.3" stroke="#585858" stroke-width="1.12" fill="none" /><path d="M1000.7,650.3 L1001.8,658.6" stroke="#585858" stroke-width="0.896" fill="none"/><ellipse cx="1013.7" cy="647.8" rx="1.8" ry="2.6" transform="rotate(20 1013.7 647.8)" stroke="#585858" stroke-width="1.232" fill="none"/><path d="M1017.5,649.7 L1022,653" stroke="#585858" stroke-width="0.896" fill="none"/><ellipse cx="1026.1" cy="655.4" rx="4.6" ry="5.6" transform="rotate(20 1026.1 655.4)" stroke="#585858" stroke-width="1.232" fill="#fff"/><ellipse cx="1027" cy="655.5" rx="2.6" ry="3.6" transform="rotate(20 1027 655.5)" stroke="#585858" stroke-width="1.008" fill="none"/><ellipse cx="1021" cy="573.9" rx="4.8" ry="5.8" transform="rotate(22 1021 573.9)" stroke="#585858" stroke-width="1.456" fill="#fff"/><ellipse cx="1020.4" cy="574.1999999999999" rx="4.32" ry="5.336" transform="rotate(22 1020.4 574.1999999999999)" stroke="#585858" stroke-width="0.672" fill="none"/><ellipse cx="1021" cy="573.9" rx="1.68" ry="2.03" transform="rotate(22 1021 573.9)" stroke="#585858" stroke-width="1.232" fill="none"/><path d="M1040,572.8 L1091.3,598.4 C1101,604 1099,619 1088,620.4 C1086,620.6 1085,620.5 1084,620 L1036.5,595.4 C1029,591 1026,584 1029,577.5 C1031,573.5 1036,572 1040,572.8 Z" stroke="#585858" stroke-width="1.12" fill="none" /><path d="M1028.1,577 L1038,574 L1040.6,585 L1031,588Z" stroke="#585858" stroke-width="0.896" fill="none"/><ellipse cx="1032.8" cy="580.5" rx="2.6" ry="3" transform="rotate(-25 1032.8 580.5)" stroke="#585858" stroke-width="0.896" fill="none"/><ellipse cx="1032.8" cy="580.5" rx="1.2" ry="1.5" transform="rotate(-25 1032.8 580.5)" stroke="#585858" stroke-width="0.784" fill="none"/><path d="M1099.7,612.7 L1128.9,625.8" stroke="#585858" stroke-width="1.008" fill="none"/><path d="M1098.5,617.5 L1125.3,630" stroke="#585858" stroke-width="1.008" fill="none"/><path d="M1125,624.6 L1133,623.5 L1137,628 L1136.6,634 L1128,636 L1124.5,631Z" stroke="#585858" stroke-width="1.008" fill="none"/><ellipse cx="1133" cy="630" rx="2.4" ry="2.8" transform="rotate(-25 1133 630)" stroke="#585858" stroke-width="0.896" fill="none"/><path d="M1040.6,585.9 L1031.1,605.5 L1034,607" stroke="#585858" stroke-width="0.896" fill="none"/><path d="M1031.706271128584,608.7214513615877 L1039.206271128584,613.5214513615877" stroke="#585858" stroke-width="1.12" fill="none"/><path d="M1034.293728871416,604.6785486384124 L1041.793728871416,609.4785486384123" stroke="#585858" stroke-width="1.12" fill="none"/><ellipse cx="1044.2" cy="613.9" rx="5" ry="6" transform="rotate(-20 1044.2 613.9)" stroke="#585858" stroke-width="1.12" fill="#fff"/><ellipse cx="1044.6" cy="614" rx="3.4" ry="4.2" transform="rotate(-20 1044.6 614)" stroke="#585858" stroke-width="0.896" fill="none"/><ellipse cx="1044.6" cy="614" rx="1.5" ry="1.8" transform="rotate(0 1044.6 614)" stroke="#585858" stroke-width="0.784" fill="none"/><ellipse cx="1097.7" cy="587.1" rx="4.675" ry="5.39" transform="rotate(20 1097.7 587.1)" stroke="#585858" stroke-width="1.12" fill="#fff"/><path d="M1097.75,590.44 L1095.2,586.98 L1096.55,582.75 L1100.45,581.96 L1103.0,585.42 L1101.65,589.65Z" stroke="#585858" stroke-width="1.12" fill="#fff"/><ellipse cx="1099.1" cy="586.2" rx="1.76" ry="2.2" transform="rotate(20 1099.1 586.2)" stroke="#585858" stroke-width="1.12" fill="none"/><path d="M1104.459550558567,591.7365305629362 L1112.859550558567,595.8365305629362" stroke="#585858" stroke-width="1.12" fill="none"/><path d="M1106.740449441433,587.0634694370638 L1115.140449441433,591.1634694370638" stroke="#585858" stroke-width="1.12" fill="none"/><ellipse cx="1105.6" cy="589.4" rx="1.1700000000000002" ry="2.6" transform="rotate(26.016782940773673 1105.6 589.4)" stroke="#585858" stroke-width="1.12" fill="none"/><ellipse cx="1114" cy="593.5" rx="1.1700000000000002" ry="2.6" transform="rotate(26.016782940773673 1114 593.5)" stroke="#585858" stroke-width="1.12" fill="none"/><path d="M1111.7362186761188,597.2729688731351 L1121.7362186761188,603.2729688731351" stroke="#585858" stroke-width="1.12" fill="none"/><path d="M1116.2637813238812,589.7270311268649 L1126.2637813238812,595.7270311268649" stroke="#585858" stroke-width="1.12" fill="none"/><ellipse cx="1114" cy="593.5" rx="2.2" ry="4.4" transform="rotate(28 1114 593.5)" stroke="#585858" stroke-width="1.12" fill="none"/><ellipse cx="1119" cy="596.5" rx="2" ry="4.4" transform="rotate(28 1119 596.5)" stroke="#585858" stroke-width="1.12" fill="none"/><path d="M1122.6631521544462,601.3715869837755 L1131.0631521544462,607.3715869837755" stroke="#585858" stroke-width="1.12" fill="none"/><path d="M1125.3368478455538,597.6284130162245 L1133.736847845554,603.6284130162245" stroke="#585858" stroke-width="1.12" fill="none"/><ellipse cx="1124" cy="599.5" rx="1.035" ry="2.3" transform="rotate(35.53767779197409 1124 599.5)" stroke="#585858" stroke-width="1.12" fill="none"/><ellipse cx="1132.4" cy="605.5" rx="1.035" ry="2.3" transform="rotate(35.53767779197409 1132.4 605.5)" stroke="#585858" stroke-width="1.12" fill="none"/><path d="M1132.4,605.5 L1136.6,607.9 L1128.3,624.6" stroke="#585858" stroke-width="0.896" fill="none"/><path d="M1136.6,633 L1144.4,636.5" stroke="#585858" stroke-width="0.896" fill="none"/><ellipse cx="1147.2" cy="640.1" rx="4.675" ry="5.39" transform="rotate(20 1147.2 640.1)" stroke="#585858" stroke-width="1.12" fill="#fff"/><path d="M1147.25,643.44 L1144.7,639.98 L1146.05,635.75 L1149.95,634.96 L1152.5,638.42 L1151.15,642.65Z" stroke="#585858" stroke-width="1.12" fill="#fff"/><ellipse cx="1148.6" cy="639.2" rx="1.76" ry="2.2" transform="rotate(20 1148.6 639.2)" stroke="#585858" stroke-width="1.12" fill="none"/><path d="M1152.3,447.1 L1162.1,440.9 L1170.4,453.8 L1159.5,460.5Z" stroke="#585858" stroke-width="1.12" fill="none"/><path d="M1152.3,447.1 L1159.5,460.5" stroke="#585858" stroke-width="1.456" fill="none"/><path d="M1152.3,447.6 L1112,473.4" stroke="#585858" stroke-width="1.456" fill="none"/><path d="M1152.3,449.8 L1113,475" stroke="#585858" stroke-width="0.784" fill="none"/><path d="M1112,473.4 L1111,469.8 L1100.6,464.1 L1090.8,470.8 L1100.6,477 L1102.7,479.6 L1112,473.4" stroke="#585858" stroke-width="1.12" fill="none" /><path d="M1159.5,460.5 L1104.8,494.6" stroke="#585858" stroke-width="1.456" fill="none"/><path d="M1159,463 L1105,496.5" stroke="#585858" stroke-width="0.784" fill="none"/><path d="M1099.6,498.2 L1100.1,510.6 L1111,504.4 L1110.5,493.6" stroke="#585858" stroke-width="1.12" fill="none"/><path d="M1090.8,472.4 L1104.3,495.1" stroke="#585858" stroke-width="0.896" fill="none"/><path d="M1060.3,493.6 L1071.7,486.3 L1082,480.6 L1089.3,483.7 L1090.3,488.9 L1085.1,493 L1075.8,487.9 L1060.3,493.6 L1070.7,501.3 C1072,505 1074,507 1076.9,507.5 L1085.1,503.9 L1099.6,510.6" stroke="#585858" stroke-width="1.12" fill="none" /><path d="M1090.8,470.8 L1090.3,488.9" stroke="#585858" stroke-width="1.008" fill="none"/><ellipse cx="1075.3" cy="497.7" rx="3.8" ry="4.8" transform="rotate(-15 1075.3 497.7)" stroke="#585858" stroke-width="1.12" fill="none"/><path d="M1050,511.6 L1073.8,499.2" stroke="#585858" stroke-width="0.896" fill="none" stroke-dasharray="10 4 3 4"/><path d="M1165.7,445 L1180,437.2" stroke="#585858" stroke-width="0.896" fill="none" stroke-dasharray="10 4 3 4"/><path d="M1125.4,430 L1140.9,454.8" stroke="#585858" stroke-width="0.896" fill="none" stroke-dasharray="10 4 3 4"/><path d="M1142,430 L1153.3,447" stroke="#585858" stroke-width="0.896" fill="none" stroke-dasharray="10 4 3 4"/><path d="M770.5,688.6 L772,687.1 L779.4,685.2 C784,685 786,689 785.3,693 C785,699 782,702 776,704 L772,706.4 L769,720.5 L739.3,735.3 C737,735 736.5,731 737.8,728.6 L763,718.2 C765,717 765,714 763,713.8 L739.3,722.7 C737,722 737,718 737.8,716.8 L767.5,703.4 Z" stroke="#585858" stroke-width="1.12"  fill="#fff"/><path d="M772,687.1 L769,704" stroke="#585858" stroke-width="0.784" fill="none"/><ellipse cx="781.6" cy="695.2" rx="3.6" ry="4.2" transform="rotate(0 781.6 695.2)" stroke="#585858" stroke-width="1.12" fill="none"/><ellipse cx="782.6" cy="694.8" rx="2.4" ry="3.4" transform="rotate(20 782.6 694.8)" stroke="#585858" stroke-width="1.12" fill="none"/><path d="M1168.2,443.7 L1175.7,439.5" stroke="#585858" stroke-width="0.896" fill="none"/><ellipse cx="1181" cy="436.6" rx="8.5" ry="11" transform="rotate(22 1181 436.6)" stroke="#585858" stroke-width="1.456" fill="#fff"/><ellipse cx="1180.4" cy="436.90000000000003" rx="7.65" ry="10.120000000000001" transform="rotate(22 1180.4 436.90000000000003)" stroke="#585858" stroke-width="0.672" fill="none"/><ellipse cx="1181" cy="436.6" rx="3.57" ry="4.62" transform="rotate(22 1181 436.6)" stroke="#585858" stroke-width="1.232" fill="none"/><ellipse cx="1194.7" cy="428.2" rx="8.2" ry="10.5" transform="rotate(22 1194.7 428.2)" stroke="#585858" stroke-width="1.456" fill="#fff"/><ellipse cx="1194.1000000000001" cy="428.5" rx="7.38" ry="9.66" transform="rotate(22 1194.1000000000001 428.5)" stroke="#585858" stroke-width="0.672" fill="none"/><ellipse cx="1194.7" cy="428.2" rx="3.4439999999999995" ry="4.41" transform="rotate(22 1194.7 428.2)" stroke="#585858" stroke-width="1.232" fill="none"/><path d="M1199,425 L1204,421.5" stroke="#585858" stroke-width="0.896" fill="none"/><path d="M1205.7316596831313,424.0979797834447 L1229.6316596831314,407.5979797834447" stroke="#585858" stroke-width="1.12" fill="none"/><path d="M1201.8683403168686,418.5020202165553 L1225.7683403168687,402.0020202165553" stroke="#585858" stroke-width="1.12" fill="none"/><ellipse cx="1203.8" cy="421.3" rx="2.2" ry="3.4" transform="rotate(-30 1203.8 421.3)" stroke="#585858" stroke-width="1.12" fill="none"/><ellipse cx="1216" cy="412.5" rx="1.5" ry="3.4" transform="rotate(-30 1216 412.5)" stroke="#585858" stroke-width="0.896" fill="none"/><path d="M1230.0270753143768,408.7679617540014 L1243.3270753143768,400.9679617540014" stroke="#585858" stroke-width="1.12" fill="none"/><path d="M1225.3729246856233,400.8320382459986 L1238.6729246856232,393.0320382459986" stroke="#585858" stroke-width="1.12" fill="none"/><ellipse cx="1227.7" cy="404.8" rx="2.6" ry="4.6" transform="rotate(-30 1227.7 404.8)" stroke="#585858" stroke-width="1.12" fill="none"/><ellipse cx="1244" cy="400.6" rx="7.5" ry="9.8" transform="rotate(-25 1244 400.6)" stroke="#585858" stroke-width="1.12" fill="#fff"/><ellipse cx="1245.5" cy="400" rx="6" ry="8.6" transform="rotate(-25 1245.5 400)" stroke="#585858" stroke-width="0.896" fill="none"/><path d="M1070.4,351.4 L1080.8,345.4 L1083.8,349.1 L1073.4,355.4Z" stroke="#585858" stroke-width="1.12" fill="none"/><path d="M1074,349.5 L1076.5,353.5" stroke="#585858" stroke-width="0.784" fill="none"/><path d="M1076,354.7 L1085.2,370.7 L1091.6,367.7 L1082.3,350.6" stroke="#585858" stroke-width="1.12" fill="none"/><path d="M1080.4,339.8 L1090.8,333.9 L1094.1,337.6 L1083.8,343.2Z" stroke="#585858" stroke-width="1.12" fill="none"/><path d="M1084,338 L1086.5,342" stroke="#585858" stroke-width="0.784" fill="none"/><path d="M1086,343.2 L1095.3,359.5 L1101.6,356.2 L1092.7,339.8" stroke="#585858" stroke-width="1.12" fill="none"/><path d="M1084.5,377.3 L1098.2,369.9 L1098.8,371.5 L1085,379Z" stroke="#585858" stroke-width="1.008" fill="none"/><path d="M1094.5,366.6 L1108.6,359.1 L1109.2,360.7 L1095,368.3Z" stroke="#585858" stroke-width="1.008" fill="none"/><path d="M1089.3,371 L1125.4,430" stroke="#585858" stroke-width="0.896" fill="none" stroke-dasharray="15 4 4 4"/><path d="M1099.3,359.1 L1142,430" stroke="#585858" stroke-width="0.896" fill="none" stroke-dasharray="22 5 5 5"/><path d="M605.4,252 L605.4,281.7 C607,285 610,287 613.3,287 L637.7,288 C641,288 644,286 645.1,283.8 L649.4,253 C649,250.5 647.5,249.3 645.1,249.3 L622.9,252" stroke="#585858" stroke-width="1.12"  fill="#fff"/><path d="M605.4,252 C610,255 618,255 622.9,252" stroke="#585858" stroke-width="1.008" fill="none" /><ellipse cx="641.4" cy="259.4" rx="5.8" ry="2.6" transform="rotate(-35 641.4 259.4)" stroke="#585858" stroke-width="1.008" fill="none"/><ellipse cx="641.4" cy="259.4" rx="3.5" ry="1.4" transform="rotate(-35 641.4 259.4)" stroke="#585858" stroke-width="0.784" fill="none"/><ellipse cx="639.8" cy="280.6" rx="2.6" ry="3.6" transform="rotate(20 639.8 280.6)" stroke="#585858" stroke-width="1.008" fill="none"/><path d="M642,261.5 L652.6,267.9" stroke="#585858" stroke-width="0.896" fill="none"/><ellipse cx="657.3" cy="270" rx="5.8" ry="7.8" transform="rotate(22 657.3 270)" stroke="#585858" stroke-width="1.456" fill="#fff"/><ellipse cx="656.6999999999999" cy="270.3" rx="5.22" ry="7.176" transform="rotate(22 656.6999999999999 270.3)" stroke="#585858" stroke-width="0.672" fill="none"/><ellipse cx="657.3" cy="270" rx="2.2039999999999997" ry="2.964" transform="rotate(22 657.3 270)" stroke="#585858" stroke-width="1.232" fill="none"/><path d="M662.2980887928962,279.68979235823366 L675.0980887928962,287.0897923582337" stroke="#585858" stroke-width="1.12" fill="none"/><path d="M666.1019112071039,273.1102076417663 L678.9019112071038,280.5102076417663" stroke="#585858" stroke-width="1.12" fill="none"/><ellipse cx="664.2" cy="276.4" rx="2" ry="3.8" transform="rotate(30 664.2 276.4)" stroke="#585858" stroke-width="1.008" fill="none"/><path d="M677,280 L682,278 L687,281.5 L687.5,288 L683,292 L677.5,291 L675,286 Z M682,278 L681.5,285.5 L677.5,291 M681.5,285.5 L687.5,288" stroke="#585858" stroke-width="1.12"  fill="#fff"/><path d="M646.2,285.9 L664,296.5" stroke="#585858" stroke-width="0.896" fill="none"/><ellipse cx="670.75" cy="300.5" rx="5.8" ry="7.8" transform="rotate(22 670.75 300.5)" stroke="#585858" stroke-width="1.456" fill="#fff"/><ellipse cx="670.15" cy="300.8" rx="5.22" ry="7.176" transform="rotate(22 670.15 300.8)" stroke="#585858" stroke-width="0.672" fill="none"/><ellipse cx="670.75" cy="300.5" rx="2.2039999999999997" ry="2.964" transform="rotate(22 670.75 300.5)" stroke="#585858" stroke-width="1.232" fill="none"/><path d="M689.1536102973427,314.4066332668182 L698.9036102973427,320.4066332668182" stroke="#585858" stroke-width="1.12" fill="none"/><path d="M693.3463897026573,307.5933667331818 L703.0963897026573,313.5933667331818" stroke="#585858" stroke-width="1.12" fill="none"/><ellipse cx="691.25" cy="311" rx="2.2" ry="4" transform="rotate(30 691.25 311)" stroke="#585858" stroke-width="1.008" fill="none"/><path d="M676,303.5 L689,309.5" stroke="#585858" stroke-width="0.896" fill="none"/><path d="M701,313 L706.5,311 L712,315 L712,322 L707,326 L701.5,325 L699,320 Z M706.5,311 L706,318.5 L701.5,325 M706,318.5 L712,322" stroke="#585858" stroke-width="1.12"  fill="#fff"/></g>
</svg></body></html>
